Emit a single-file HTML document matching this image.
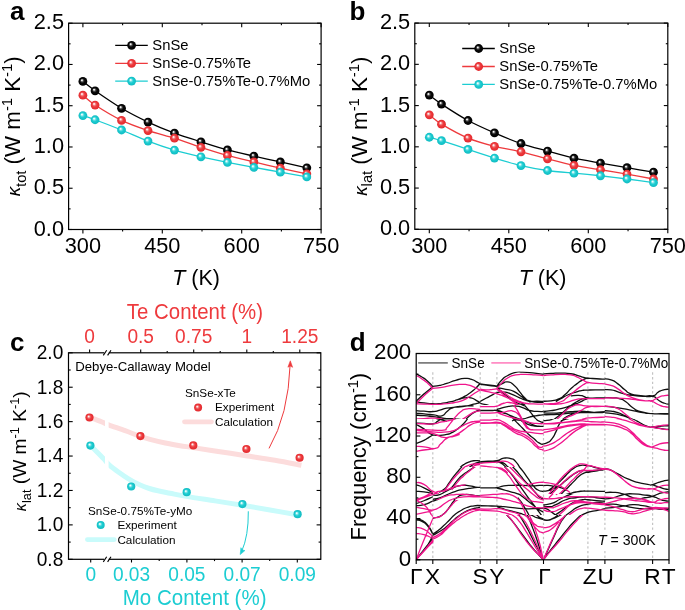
<!DOCTYPE html>
<html><head><meta charset="utf-8"><style>
html,body{margin:0;padding:0;background:#fff;}
svg{display:block;will-change:transform;}
text{font-family:"Liberation Sans", sans-serif;}
</style></head><body>
<svg width="685" height="610" viewBox="0 0 685 610" font-family='"Liberation Sans", sans-serif'>
<rect width="685" height="610" fill="#fff"/>

<defs>
<radialGradient id="g_k" cx="0.5" cy="0.5" r="0.5" fx="0.37" fy="0.35">
  <stop offset="0" stop-color="#ffffff"/>
  <stop offset="0.12" stop-color="#e8e8e8"/>
  <stop offset="0.32" stop-color="#4a4a4a"/>
  <stop offset="0.55" stop-color="#080808"/>
  <stop offset="1" stop-color="#000"/>
</radialGradient>
<radialGradient id="g_r" cx="0.5" cy="0.5" r="0.5" fx="0.37" fy="0.35">
  <stop offset="0" stop-color="#ffffff"/>
  <stop offset="0.12" stop-color="#fde6e6"/>
  <stop offset="0.34" stop-color="#f07073"/>
  <stop offset="0.55" stop-color="#ee3b3e"/>
  <stop offset="1" stop-color="#e2282c"/>
</radialGradient>
<radialGradient id="g_c" cx="0.5" cy="0.5" r="0.5" fx="0.37" fy="0.35">
  <stop offset="0" stop-color="#ffffff"/>
  <stop offset="0.12" stop-color="#e4fbfb"/>
  <stop offset="0.34" stop-color="#62dde0"/>
  <stop offset="0.55" stop-color="#1ccdd2"/>
  <stop offset="1" stop-color="#12bbc1"/>
</radialGradient>
<clipPath id="clipd"><rect x="416.3" y="353.8" width="252.5" height="205.7"/></clipPath>
<clipPath id="clipc1"><rect x="68.5" y="352.8" width="36.5" height="206.5"/></clipPath>
<clipPath id="clipc2"><rect x="108.6" y="352.8" width="212" height="206.5"/></clipPath>
</defs>

<path d="M82.90,81.38 C84.32,82.47 90.57,87.65 95.07,90.78 C99.58,93.92 115.37,104.63 121.54,108.28 C127.72,111.93 141.83,119.16 148.01,122.06 C154.18,124.96 168.30,130.82 174.47,133.12 C180.65,135.42 194.77,139.82 200.94,141.78 C207.12,143.75 221.23,148.28 227.41,149.95 C233.58,151.63 247.70,154.74 253.87,156.14 C260.05,157.54 274.17,160.56 280.34,161.92 C286.52,163.27 303.72,167.09 306.81,167.78" fill="none" stroke="#000" stroke-width="1.3" stroke-linejoin="round" stroke-linecap="butt" />
<circle cx="82.90" cy="81.38" r="4.4" fill="url(#g_k)"/>
<circle cx="95.07" cy="90.78" r="4.4" fill="url(#g_k)"/>
<circle cx="121.54" cy="108.28" r="4.4" fill="url(#g_k)"/>
<circle cx="148.01" cy="122.06" r="4.4" fill="url(#g_k)"/>
<circle cx="174.47" cy="133.12" r="4.4" fill="url(#g_k)"/>
<circle cx="200.94" cy="141.78" r="4.4" fill="url(#g_k)"/>
<circle cx="227.41" cy="149.95" r="4.4" fill="url(#g_k)"/>
<circle cx="253.87" cy="156.14" r="4.4" fill="url(#g_k)"/>
<circle cx="280.34" cy="161.92" r="4.4" fill="url(#g_k)"/>
<circle cx="306.81" cy="167.78" r="4.4" fill="url(#g_k)"/>
<path d="M82.90,95.16 C84.32,96.31 90.57,102.11 95.07,105.06 C99.58,108.01 115.37,117.43 121.54,120.41 C127.72,123.38 141.83,128.49 148.01,130.56 C154.18,132.63 168.30,136.20 174.47,138.15 C180.65,140.10 194.77,145.30 200.94,147.31 C207.12,149.32 221.23,153.69 227.41,155.40 C233.58,157.10 247.70,160.42 253.87,161.92 C260.05,163.41 274.17,166.80 280.34,168.19 C286.52,169.57 303.72,173.14 306.81,173.80" fill="none" stroke="#ee3a3d" stroke-width="1.3" stroke-linejoin="round" stroke-linecap="butt" />
<circle cx="82.90" cy="95.16" r="4.4" fill="url(#g_r)"/>
<circle cx="95.07" cy="105.06" r="4.4" fill="url(#g_r)"/>
<circle cx="121.54" cy="120.41" r="4.4" fill="url(#g_r)"/>
<circle cx="148.01" cy="130.56" r="4.4" fill="url(#g_r)"/>
<circle cx="174.47" cy="138.15" r="4.4" fill="url(#g_r)"/>
<circle cx="200.94" cy="147.31" r="4.4" fill="url(#g_r)"/>
<circle cx="227.41" cy="155.40" r="4.4" fill="url(#g_r)"/>
<circle cx="253.87" cy="161.92" r="4.4" fill="url(#g_r)"/>
<circle cx="280.34" cy="168.19" r="4.4" fill="url(#g_r)"/>
<circle cx="306.81" cy="173.80" r="4.4" fill="url(#g_r)"/>
<path d="M82.90,115.62 C84.32,116.10 90.57,118.07 95.07,119.75 C99.58,121.42 115.37,127.49 121.54,129.98 C127.72,132.47 141.83,138.77 148.01,141.12 C154.18,143.47 168.30,148.29 174.47,150.12 C180.65,151.94 194.77,155.38 200.94,156.80 C207.12,158.22 221.23,161.10 227.41,162.33 C233.58,163.56 247.70,166.22 253.87,167.36 C260.05,168.51 274.17,171.03 280.34,172.15 C286.52,173.27 303.72,176.38 306.81,176.93" fill="none" stroke="#1ccdd2" stroke-width="1.3" stroke-linejoin="round" stroke-linecap="butt" />
<circle cx="82.90" cy="115.62" r="4.4" fill="url(#g_c)"/>
<circle cx="95.07" cy="119.75" r="4.4" fill="url(#g_c)"/>
<circle cx="121.54" cy="129.98" r="4.4" fill="url(#g_c)"/>
<circle cx="148.01" cy="141.12" r="4.4" fill="url(#g_c)"/>
<circle cx="174.47" cy="150.12" r="4.4" fill="url(#g_c)"/>
<circle cx="200.94" cy="156.80" r="4.4" fill="url(#g_c)"/>
<circle cx="227.41" cy="162.33" r="4.4" fill="url(#g_c)"/>
<circle cx="253.87" cy="167.36" r="4.4" fill="url(#g_c)"/>
<circle cx="280.34" cy="172.15" r="4.4" fill="url(#g_c)"/>
<circle cx="306.81" cy="176.93" r="4.4" fill="url(#g_c)"/>
<rect x="68.60" y="23.20" width="252.50" height="206.30" fill="none" stroke="#000" stroke-width="1.2"/>
<line x1="68.60" y1="229.50" x2="72.60" y2="229.50" stroke="#000" stroke-width="1.1" />
<line x1="321.10" y1="229.50" x2="317.10" y2="229.50" stroke="#000" stroke-width="1.1" />
<line x1="68.60" y1="208.87" x2="70.60" y2="208.87" stroke="#000" stroke-width="1.1" />
<line x1="321.10" y1="208.87" x2="319.10" y2="208.87" stroke="#000" stroke-width="1.1" />
<line x1="68.60" y1="188.24" x2="72.60" y2="188.24" stroke="#000" stroke-width="1.1" />
<line x1="321.10" y1="188.24" x2="317.10" y2="188.24" stroke="#000" stroke-width="1.1" />
<line x1="68.60" y1="167.61" x2="70.60" y2="167.61" stroke="#000" stroke-width="1.1" />
<line x1="321.10" y1="167.61" x2="319.10" y2="167.61" stroke="#000" stroke-width="1.1" />
<line x1="68.60" y1="146.98" x2="72.60" y2="146.98" stroke="#000" stroke-width="1.1" />
<line x1="321.10" y1="146.98" x2="317.10" y2="146.98" stroke="#000" stroke-width="1.1" />
<line x1="68.60" y1="126.35" x2="70.60" y2="126.35" stroke="#000" stroke-width="1.1" />
<line x1="321.10" y1="126.35" x2="319.10" y2="126.35" stroke="#000" stroke-width="1.1" />
<line x1="68.60" y1="105.72" x2="72.60" y2="105.72" stroke="#000" stroke-width="1.1" />
<line x1="321.10" y1="105.72" x2="317.10" y2="105.72" stroke="#000" stroke-width="1.1" />
<line x1="68.60" y1="85.09" x2="70.60" y2="85.09" stroke="#000" stroke-width="1.1" />
<line x1="321.10" y1="85.09" x2="319.10" y2="85.09" stroke="#000" stroke-width="1.1" />
<line x1="68.60" y1="64.46" x2="72.60" y2="64.46" stroke="#000" stroke-width="1.1" />
<line x1="321.10" y1="64.46" x2="317.10" y2="64.46" stroke="#000" stroke-width="1.1" />
<line x1="68.60" y1="43.83" x2="70.60" y2="43.83" stroke="#000" stroke-width="1.1" />
<line x1="321.10" y1="43.83" x2="319.10" y2="43.83" stroke="#000" stroke-width="1.1" />
<line x1="68.60" y1="23.20" x2="72.60" y2="23.20" stroke="#000" stroke-width="1.1" />
<line x1="321.10" y1="23.20" x2="317.10" y2="23.20" stroke="#000" stroke-width="1.1" />
<line x1="82.90" y1="229.50" x2="82.90" y2="233.50" stroke="#000" stroke-width="1.1" />
<line x1="82.90" y1="23.20" x2="82.90" y2="27.20" stroke="#000" stroke-width="1.1" />
<line x1="122.60" y1="229.50" x2="122.60" y2="231.50" stroke="#000" stroke-width="1.1" />
<line x1="122.60" y1="23.20" x2="122.60" y2="25.20" stroke="#000" stroke-width="1.1" />
<line x1="162.30" y1="229.50" x2="162.30" y2="233.50" stroke="#000" stroke-width="1.1" />
<line x1="162.30" y1="23.20" x2="162.30" y2="27.20" stroke="#000" stroke-width="1.1" />
<line x1="202.00" y1="229.50" x2="202.00" y2="231.50" stroke="#000" stroke-width="1.1" />
<line x1="202.00" y1="23.20" x2="202.00" y2="25.20" stroke="#000" stroke-width="1.1" />
<line x1="241.70" y1="229.50" x2="241.70" y2="233.50" stroke="#000" stroke-width="1.1" />
<line x1="241.70" y1="23.20" x2="241.70" y2="27.20" stroke="#000" stroke-width="1.1" />
<line x1="281.40" y1="229.50" x2="281.40" y2="231.50" stroke="#000" stroke-width="1.1" />
<line x1="281.40" y1="23.20" x2="281.40" y2="25.20" stroke="#000" stroke-width="1.1" />
<line x1="321.10" y1="229.50" x2="321.10" y2="233.50" stroke="#000" stroke-width="1.1" />
<line x1="321.10" y1="23.20" x2="321.10" y2="27.20" stroke="#000" stroke-width="1.1" />
<text transform="translate(64.00,235.50) scale(0.955,1)" font-size="22.8" text-anchor="end" fill="#000" font-weight="normal" font-style="normal" >0.0</text>
<text transform="translate(64.00,194.24) scale(0.955,1)" font-size="22.8" text-anchor="end" fill="#000" font-weight="normal" font-style="normal" >0.5</text>
<text transform="translate(64.00,152.98) scale(0.955,1)" font-size="22.8" text-anchor="end" fill="#000" font-weight="normal" font-style="normal" >1.0</text>
<text transform="translate(64.00,111.72) scale(0.955,1)" font-size="22.8" text-anchor="end" fill="#000" font-weight="normal" font-style="normal" >1.5</text>
<text transform="translate(64.00,70.46) scale(0.955,1)" font-size="22.8" text-anchor="end" fill="#000" font-weight="normal" font-style="normal" >2.0</text>
<text transform="translate(64.00,29.20) scale(0.955,1)" font-size="22.8" text-anchor="end" fill="#000" font-weight="normal" font-style="normal" >2.5</text>
<text transform="translate(82.90,253.10) scale(0.955,1)" font-size="22.8" text-anchor="middle" fill="#000" font-weight="normal" font-style="normal" >300</text>
<text transform="translate(162.30,253.10) scale(0.955,1)" font-size="22.8" text-anchor="middle" fill="#000" font-weight="normal" font-style="normal" >450</text>
<text transform="translate(241.70,253.10) scale(0.955,1)" font-size="22.8" text-anchor="middle" fill="#000" font-weight="normal" font-style="normal" >600</text>
<text transform="translate(321.10,253.10) scale(0.955,1)" font-size="22.8" text-anchor="middle" fill="#000" font-weight="normal" font-style="normal" >750</text>
<text transform="translate(196.05,285.00) scale(0.95,1)" font-size="22.6" text-anchor="middle"><tspan font-style="italic">T</tspan> (K)</text>
<text transform="translate(20.30,126.35) rotate(-90) scale(1.015,1)" font-size="22" text-anchor="middle"><tspan font-style="italic" font-size="18.5">κ</tspan><tspan font-size="14.5" dy="5.4">tot</tspan><tspan dy="-5.4"> (W m</tspan><tspan font-size="14.5" dy="-8">-1</tspan><tspan dy="8"> K</tspan><tspan font-size="14.5" dy="-8">-1</tspan><tspan dy="8">)</tspan></text>
<line x1="115.20" y1="45.30" x2="147.80" y2="45.30" stroke="#000" stroke-width="1.3" />
<circle cx="131.60" cy="45.30" r="4.4" fill="url(#g_k)"/>
<text transform="translate(152.30,50.20) scale(0.975,1)" font-size="15.2" text-anchor="start" fill="#000" font-weight="normal" font-style="normal" >SnSe</text>
<line x1="115.20" y1="63.30" x2="147.80" y2="63.30" stroke="#ee3a3d" stroke-width="1.3" />
<circle cx="131.60" cy="63.30" r="4.4" fill="url(#g_r)"/>
<text transform="translate(152.30,68.20) scale(0.975,1)" font-size="15.2" text-anchor="start" fill="#000" font-weight="normal" font-style="normal" >SnSe-0.75%Te</text>
<line x1="115.20" y1="81.10" x2="147.80" y2="81.10" stroke="#1ccdd2" stroke-width="1.3" />
<circle cx="131.60" cy="81.10" r="4.4" fill="url(#g_c)"/>
<text transform="translate(152.30,86.00) scale(0.975,1)" font-size="15.2" text-anchor="start" fill="#000" font-weight="normal" font-style="normal" >SnSe-0.75%Te-0.7%Mo</text>
<text transform="translate(10.00,19.60)" font-size="26" text-anchor="start" fill="#000" font-weight="bold" font-style="normal" >a</text>
<path d="M429.30,95.11 C430.72,96.15 436.98,101.13 441.49,104.10 C446.00,107.06 461.81,117.15 467.99,120.51 C474.17,123.87 488.31,130.20 494.49,132.88 C500.67,135.57 514.81,141.40 520.99,143.52 C527.17,145.64 541.31,149.31 547.49,151.03 C553.67,152.74 567.81,156.80 573.99,158.20 C580.17,159.61 594.31,161.96 600.49,163.07 C606.67,164.18 620.81,166.63 626.99,167.69 C633.17,168.75 650.40,171.62 653.49,172.14" fill="none" stroke="#000" stroke-width="1.3" stroke-linejoin="round" stroke-linecap="butt" />
<circle cx="429.30" cy="95.11" r="4.4" fill="url(#g_k)"/>
<circle cx="441.49" cy="104.10" r="4.4" fill="url(#g_k)"/>
<circle cx="467.99" cy="120.51" r="4.4" fill="url(#g_k)"/>
<circle cx="494.49" cy="132.88" r="4.4" fill="url(#g_k)"/>
<circle cx="520.99" cy="143.52" r="4.4" fill="url(#g_k)"/>
<circle cx="547.49" cy="151.03" r="4.4" fill="url(#g_k)"/>
<circle cx="573.99" cy="158.20" r="4.4" fill="url(#g_k)"/>
<circle cx="600.49" cy="163.07" r="4.4" fill="url(#g_k)"/>
<circle cx="626.99" cy="167.69" r="4.4" fill="url(#g_k)"/>
<circle cx="653.49" cy="172.14" r="4.4" fill="url(#g_k)"/>
<path d="M429.30,114.82 C430.72,115.91 436.98,121.42 441.49,124.14 C446.00,126.85 461.81,135.49 467.99,138.08 C474.17,140.67 488.31,144.73 494.49,146.33 C500.67,147.92 514.81,150.32 520.99,151.77 C527.17,153.22 541.31,157.20 547.49,158.78 C553.67,160.36 567.81,164.02 573.99,165.30 C580.17,166.58 594.31,168.73 600.49,169.75 C606.67,170.77 620.81,172.96 626.99,174.04 C633.17,175.12 650.40,178.41 653.49,178.99" fill="none" stroke="#ee3a3d" stroke-width="1.3" stroke-linejoin="round" stroke-linecap="butt" />
<circle cx="429.30" cy="114.82" r="4.4" fill="url(#g_r)"/>
<circle cx="441.49" cy="124.14" r="4.4" fill="url(#g_r)"/>
<circle cx="467.99" cy="138.08" r="4.4" fill="url(#g_r)"/>
<circle cx="494.49" cy="146.33" r="4.4" fill="url(#g_r)"/>
<circle cx="520.99" cy="151.77" r="4.4" fill="url(#g_r)"/>
<circle cx="547.49" cy="158.78" r="4.4" fill="url(#g_r)"/>
<circle cx="573.99" cy="165.30" r="4.4" fill="url(#g_r)"/>
<circle cx="600.49" cy="169.75" r="4.4" fill="url(#g_r)"/>
<circle cx="626.99" cy="174.04" r="4.4" fill="url(#g_r)"/>
<circle cx="653.49" cy="178.99" r="4.4" fill="url(#g_r)"/>
<path d="M429.30,137.25 C430.72,137.65 436.98,139.22 441.49,140.63 C446.00,142.05 461.81,147.35 467.99,149.38 C474.17,151.41 488.31,156.15 494.49,158.04 C500.67,159.92 514.81,164.09 520.99,165.54 C527.17,167.00 541.31,169.60 547.49,170.49 C553.67,171.39 567.81,172.60 573.99,173.21 C580.17,173.83 594.31,175.10 600.49,175.77 C606.67,176.44 620.81,178.19 626.99,178.99 C633.17,179.79 650.40,182.19 653.49,182.62" fill="none" stroke="#1ccdd2" stroke-width="1.3" stroke-linejoin="round" stroke-linecap="butt" />
<circle cx="429.30" cy="137.25" r="4.4" fill="url(#g_c)"/>
<circle cx="441.49" cy="140.63" r="4.4" fill="url(#g_c)"/>
<circle cx="467.99" cy="149.38" r="4.4" fill="url(#g_c)"/>
<circle cx="494.49" cy="158.04" r="4.4" fill="url(#g_c)"/>
<circle cx="520.99" cy="165.54" r="4.4" fill="url(#g_c)"/>
<circle cx="547.49" cy="170.49" r="4.4" fill="url(#g_c)"/>
<circle cx="573.99" cy="173.21" r="4.4" fill="url(#g_c)"/>
<circle cx="600.49" cy="175.77" r="4.4" fill="url(#g_c)"/>
<circle cx="626.99" cy="178.99" r="4.4" fill="url(#g_c)"/>
<circle cx="653.49" cy="182.62" r="4.4" fill="url(#g_c)"/>
<rect x="414.80" y="23.10" width="253.00" height="206.20" fill="none" stroke="#000" stroke-width="1.2"/>
<line x1="414.80" y1="229.30" x2="418.80" y2="229.30" stroke="#000" stroke-width="1.1" />
<line x1="667.80" y1="229.30" x2="663.80" y2="229.30" stroke="#000" stroke-width="1.1" />
<line x1="414.80" y1="208.68" x2="416.80" y2="208.68" stroke="#000" stroke-width="1.1" />
<line x1="667.80" y1="208.68" x2="665.80" y2="208.68" stroke="#000" stroke-width="1.1" />
<line x1="414.80" y1="188.06" x2="418.80" y2="188.06" stroke="#000" stroke-width="1.1" />
<line x1="667.80" y1="188.06" x2="663.80" y2="188.06" stroke="#000" stroke-width="1.1" />
<line x1="414.80" y1="167.44" x2="416.80" y2="167.44" stroke="#000" stroke-width="1.1" />
<line x1="667.80" y1="167.44" x2="665.80" y2="167.44" stroke="#000" stroke-width="1.1" />
<line x1="414.80" y1="146.82" x2="418.80" y2="146.82" stroke="#000" stroke-width="1.1" />
<line x1="667.80" y1="146.82" x2="663.80" y2="146.82" stroke="#000" stroke-width="1.1" />
<line x1="414.80" y1="126.20" x2="416.80" y2="126.20" stroke="#000" stroke-width="1.1" />
<line x1="667.80" y1="126.20" x2="665.80" y2="126.20" stroke="#000" stroke-width="1.1" />
<line x1="414.80" y1="105.58" x2="418.80" y2="105.58" stroke="#000" stroke-width="1.1" />
<line x1="667.80" y1="105.58" x2="663.80" y2="105.58" stroke="#000" stroke-width="1.1" />
<line x1="414.80" y1="84.96" x2="416.80" y2="84.96" stroke="#000" stroke-width="1.1" />
<line x1="667.80" y1="84.96" x2="665.80" y2="84.96" stroke="#000" stroke-width="1.1" />
<line x1="414.80" y1="64.34" x2="418.80" y2="64.34" stroke="#000" stroke-width="1.1" />
<line x1="667.80" y1="64.34" x2="663.80" y2="64.34" stroke="#000" stroke-width="1.1" />
<line x1="414.80" y1="43.72" x2="416.80" y2="43.72" stroke="#000" stroke-width="1.1" />
<line x1="667.80" y1="43.72" x2="665.80" y2="43.72" stroke="#000" stroke-width="1.1" />
<line x1="414.80" y1="23.10" x2="418.80" y2="23.10" stroke="#000" stroke-width="1.1" />
<line x1="667.80" y1="23.10" x2="663.80" y2="23.10" stroke="#000" stroke-width="1.1" />
<line x1="429.30" y1="229.30" x2="429.30" y2="233.30" stroke="#000" stroke-width="1.1" />
<line x1="429.30" y1="23.10" x2="429.30" y2="27.10" stroke="#000" stroke-width="1.1" />
<line x1="469.05" y1="229.30" x2="469.05" y2="231.30" stroke="#000" stroke-width="1.1" />
<line x1="469.05" y1="23.10" x2="469.05" y2="25.10" stroke="#000" stroke-width="1.1" />
<line x1="508.80" y1="229.30" x2="508.80" y2="233.30" stroke="#000" stroke-width="1.1" />
<line x1="508.80" y1="23.10" x2="508.80" y2="27.10" stroke="#000" stroke-width="1.1" />
<line x1="548.55" y1="229.30" x2="548.55" y2="231.30" stroke="#000" stroke-width="1.1" />
<line x1="548.55" y1="23.10" x2="548.55" y2="25.10" stroke="#000" stroke-width="1.1" />
<line x1="588.30" y1="229.30" x2="588.30" y2="233.30" stroke="#000" stroke-width="1.1" />
<line x1="588.30" y1="23.10" x2="588.30" y2="27.10" stroke="#000" stroke-width="1.1" />
<line x1="628.05" y1="229.30" x2="628.05" y2="231.30" stroke="#000" stroke-width="1.1" />
<line x1="628.05" y1="23.10" x2="628.05" y2="25.10" stroke="#000" stroke-width="1.1" />
<line x1="667.80" y1="229.30" x2="667.80" y2="233.30" stroke="#000" stroke-width="1.1" />
<line x1="667.80" y1="23.10" x2="667.80" y2="27.10" stroke="#000" stroke-width="1.1" />
<text transform="translate(410.20,235.30) scale(0.955,1)" font-size="22.8" text-anchor="end" fill="#000" font-weight="normal" font-style="normal" >0.0</text>
<text transform="translate(410.20,194.06) scale(0.955,1)" font-size="22.8" text-anchor="end" fill="#000" font-weight="normal" font-style="normal" >0.5</text>
<text transform="translate(410.20,152.82) scale(0.955,1)" font-size="22.8" text-anchor="end" fill="#000" font-weight="normal" font-style="normal" >1.0</text>
<text transform="translate(410.20,111.58) scale(0.955,1)" font-size="22.8" text-anchor="end" fill="#000" font-weight="normal" font-style="normal" >1.5</text>
<text transform="translate(410.20,70.34) scale(0.955,1)" font-size="22.8" text-anchor="end" fill="#000" font-weight="normal" font-style="normal" >2.0</text>
<text transform="translate(410.20,29.10) scale(0.955,1)" font-size="22.8" text-anchor="end" fill="#000" font-weight="normal" font-style="normal" >2.5</text>
<text transform="translate(429.30,252.90) scale(0.955,1)" font-size="22.8" text-anchor="middle" fill="#000" font-weight="normal" font-style="normal" >300</text>
<text transform="translate(508.80,252.90) scale(0.955,1)" font-size="22.8" text-anchor="middle" fill="#000" font-weight="normal" font-style="normal" >450</text>
<text transform="translate(588.30,252.90) scale(0.955,1)" font-size="22.8" text-anchor="middle" fill="#000" font-weight="normal" font-style="normal" >600</text>
<text transform="translate(667.80,252.90) scale(0.955,1)" font-size="22.8" text-anchor="middle" fill="#000" font-weight="normal" font-style="normal" >750</text>
<text transform="translate(542.50,284.80) scale(0.95,1)" font-size="22.6" text-anchor="middle"><tspan font-style="italic">T</tspan> (K)</text>
<text transform="translate(366.50,126.20) rotate(-90) scale(1.015,1)" font-size="22" text-anchor="middle"><tspan font-style="italic" font-size="18.5">κ</tspan><tspan font-size="14.5" dy="5.4">lat</tspan><tspan dy="-5.4"> (W m</tspan><tspan font-size="14.5" dy="-8">-1</tspan><tspan dy="8"> K</tspan><tspan font-size="14.5" dy="-8">-1</tspan><tspan dy="8">)</tspan></text>
<line x1="462.20" y1="48.50" x2="494.80" y2="48.50" stroke="#000" stroke-width="1.3" />
<circle cx="478.70" cy="48.50" r="4.4" fill="url(#g_k)"/>
<text transform="translate(499.30,53.40) scale(0.975,1)" font-size="15.2" text-anchor="start" fill="#000" font-weight="normal" font-style="normal" >SnSe</text>
<line x1="462.20" y1="66.50" x2="494.80" y2="66.50" stroke="#ee3a3d" stroke-width="1.3" />
<circle cx="478.70" cy="66.50" r="4.4" fill="url(#g_r)"/>
<text transform="translate(499.30,71.40) scale(0.975,1)" font-size="15.2" text-anchor="start" fill="#000" font-weight="normal" font-style="normal" >SnSe-0.75%Te</text>
<line x1="462.20" y1="84.40" x2="494.80" y2="84.40" stroke="#1ccdd2" stroke-width="1.3" />
<circle cx="478.70" cy="84.40" r="4.4" fill="url(#g_c)"/>
<text transform="translate(499.30,89.30) scale(0.975,1)" font-size="15.2" text-anchor="start" fill="#000" font-weight="normal" font-style="normal" >SnSe-0.75%Te-0.7%Mo</text>
<text transform="translate(349.50,19.60)" font-size="26" text-anchor="start" fill="#000" font-weight="bold" font-style="normal" >b</text>
<g clip-path="url(#clipc1)">
<path d="M89.50,417.20 C90.88,417.72 95.38,419.35 97.80,420.30 C100.22,421.25 102.12,422.10 104.00,422.90 C105.88,423.70 105.58,423.80 109.10,425.10 C112.62,426.40 119.88,428.82 125.10,430.70 C130.32,432.58 136.25,434.97 140.40,436.40 C144.55,437.83 145.85,438.20 150.00,439.30 C154.15,440.40 160.30,441.93 165.30,443.00 C170.30,444.07 175.35,444.93 180.00,445.70 C184.65,446.47 186.53,446.60 193.20,447.60 C199.87,448.60 211.23,450.35 220.00,451.70 C228.77,453.05 236.63,454.28 245.80,455.70 C254.97,457.12 265.73,458.62 275.00,460.20 C284.27,461.78 297.00,464.37 301.40,465.20" fill="none" stroke="#fcdcdc" stroke-width="5.0" stroke-linejoin="round" stroke-linecap="butt" />
</g><g clip-path="url(#clipc2)">
<path d="M89.50,417.20 C90.88,417.72 95.38,419.35 97.80,420.30 C100.22,421.25 102.12,422.10 104.00,422.90 C105.88,423.70 105.58,423.80 109.10,425.10 C112.62,426.40 119.88,428.82 125.10,430.70 C130.32,432.58 136.25,434.97 140.40,436.40 C144.55,437.83 145.85,438.20 150.00,439.30 C154.15,440.40 160.30,441.93 165.30,443.00 C170.30,444.07 175.35,444.93 180.00,445.70 C184.65,446.47 186.53,446.60 193.20,447.60 C199.87,448.60 211.23,450.35 220.00,451.70 C228.77,453.05 236.63,454.28 245.80,455.70 C254.97,457.12 265.73,458.62 275.00,460.20 C284.27,461.78 297.00,464.37 301.40,465.20" fill="none" stroke="#fcdcdc" stroke-width="5.0" stroke-linejoin="round" stroke-linecap="butt" />
</g>
<g clip-path="url(#clipc1)">
<path d="M90.40,445.60 C91.37,446.53 94.22,449.23 96.20,451.20 C98.18,453.17 100.95,456.03 102.30,457.40 C103.65,458.77 103.20,458.20 104.30,459.40 C105.40,460.60 106.50,462.47 108.90,464.60 C111.30,466.73 115.37,469.78 118.70,472.20 C122.03,474.62 125.50,477.03 128.90,479.10 C132.30,481.17 135.70,483.03 139.10,484.60 C142.50,486.17 146.15,487.47 149.30,488.50 C152.45,489.53 154.55,490.02 158.00,490.80 C161.45,491.58 165.27,492.27 170.00,493.20 C174.73,494.13 178.90,495.12 186.40,496.40 C193.90,497.68 205.68,499.43 215.00,500.90 C224.32,502.37 233.13,503.68 242.30,505.20 C251.47,506.72 260.63,508.37 270.00,510.00 C279.37,511.63 293.75,514.17 298.50,515.00" fill="none" stroke="#c9fbfb" stroke-width="5.0" stroke-linejoin="round" stroke-linecap="butt" />
</g><g clip-path="url(#clipc2)">
<path d="M90.40,445.60 C91.37,446.53 94.22,449.23 96.20,451.20 C98.18,453.17 100.95,456.03 102.30,457.40 C103.65,458.77 103.20,458.20 104.30,459.40 C105.40,460.60 106.50,462.47 108.90,464.60 C111.30,466.73 115.37,469.78 118.70,472.20 C122.03,474.62 125.50,477.03 128.90,479.10 C132.30,481.17 135.70,483.03 139.10,484.60 C142.50,486.17 146.15,487.47 149.30,488.50 C152.45,489.53 154.55,490.02 158.00,490.80 C161.45,491.58 165.27,492.27 170.00,493.20 C174.73,494.13 178.90,495.12 186.40,496.40 C193.90,497.68 205.68,499.43 215.00,500.90 C224.32,502.37 233.13,503.68 242.30,505.20 C251.47,506.72 260.63,508.37 270.00,510.00 C279.37,511.63 293.75,514.17 298.50,515.00" fill="none" stroke="#c9fbfb" stroke-width="5.0" stroke-linejoin="round" stroke-linecap="butt" />
</g>
<path d="M269,448.4 Q288.4,415 290.2,364" fill="none" stroke="#ee3a3d" stroke-width="1.0"/>
<path d="M290.3,360.8 L287.9,367.2 L290.3,366 L292.6,367.3 Z" fill="#ee3a3d" stroke="#ee3a3d" stroke-width="0.6"/>
<path d="M248.3,511.3 Q248.6,536 241.6,551.5" fill="none" stroke="#1ccdd2" stroke-width="1.0"/>
<path d="M240.2,554.6 L240.9,547.7 L242.3,549.9 L244.9,550.6 Z" fill="#1ccdd2" stroke="#1ccdd2" stroke-width="0.6"/>
<circle cx="89.50" cy="417.50" r="4.1" fill="url(#g_r)"/>
<circle cx="140.40" cy="436.09" r="4.1" fill="url(#g_r)"/>
<circle cx="193.30" cy="445.38" r="4.1" fill="url(#g_r)"/>
<circle cx="246.40" cy="448.99" r="4.1" fill="url(#g_r)"/>
<circle cx="299.60" cy="457.77" r="4.1" fill="url(#g_r)"/>
<circle cx="90.40" cy="445.55" r="4.1" fill="url(#g_c)"/>
<circle cx="131.20" cy="486.51" r="4.1" fill="url(#g_c)"/>
<circle cx="186.70" cy="492.19" r="4.1" fill="url(#g_c)"/>
<circle cx="242.40" cy="504.06" r="4.1" fill="url(#g_c)"/>
<circle cx="297.60" cy="514.21" r="4.1" fill="url(#g_c)"/>
<rect x="68.5" y="352.8" width="252.30" height="206.50" fill="none" stroke="#000" stroke-width="1.2"/>
<rect x="104.2" y="351.6" width="4.6" height="2.4" fill="#fff"/>
<line x1="103.30" y1="355.40" x2="106.70" y2="350.20" stroke="#000" stroke-width="1.1" />
<line x1="107.60" y1="355.40" x2="111.00" y2="350.20" stroke="#000" stroke-width="1.1" />
<rect x="104.2" y="558.1" width="4.6" height="2.4" fill="#fff"/>
<line x1="103.30" y1="561.90" x2="106.70" y2="556.70" stroke="#000" stroke-width="1.1" />
<line x1="107.60" y1="561.90" x2="111.00" y2="556.70" stroke="#000" stroke-width="1.1" />
<line x1="68.50" y1="559.30" x2="72.70" y2="559.30" stroke="#000" stroke-width="1.1" />
<line x1="320.80" y1="559.30" x2="316.60" y2="559.30" stroke="#000" stroke-width="1.1" />
<line x1="68.50" y1="542.09" x2="70.70" y2="542.09" stroke="#000" stroke-width="1.1" />
<line x1="320.80" y1="542.09" x2="318.60" y2="542.09" stroke="#000" stroke-width="1.1" />
<line x1="68.50" y1="524.88" x2="72.70" y2="524.88" stroke="#000" stroke-width="1.1" />
<line x1="320.80" y1="524.88" x2="316.60" y2="524.88" stroke="#000" stroke-width="1.1" />
<line x1="68.50" y1="507.67" x2="70.70" y2="507.67" stroke="#000" stroke-width="1.1" />
<line x1="320.80" y1="507.67" x2="318.60" y2="507.67" stroke="#000" stroke-width="1.1" />
<line x1="68.50" y1="490.47" x2="72.70" y2="490.47" stroke="#000" stroke-width="1.1" />
<line x1="320.80" y1="490.47" x2="316.60" y2="490.47" stroke="#000" stroke-width="1.1" />
<line x1="68.50" y1="473.26" x2="70.70" y2="473.26" stroke="#000" stroke-width="1.1" />
<line x1="320.80" y1="473.26" x2="318.60" y2="473.26" stroke="#000" stroke-width="1.1" />
<line x1="68.50" y1="456.05" x2="72.70" y2="456.05" stroke="#000" stroke-width="1.1" />
<line x1="320.80" y1="456.05" x2="316.60" y2="456.05" stroke="#000" stroke-width="1.1" />
<line x1="68.50" y1="438.84" x2="70.70" y2="438.84" stroke="#000" stroke-width="1.1" />
<line x1="320.80" y1="438.84" x2="318.60" y2="438.84" stroke="#000" stroke-width="1.1" />
<line x1="68.50" y1="421.63" x2="72.70" y2="421.63" stroke="#000" stroke-width="1.1" />
<line x1="320.80" y1="421.63" x2="316.60" y2="421.63" stroke="#000" stroke-width="1.1" />
<line x1="68.50" y1="404.42" x2="70.70" y2="404.42" stroke="#000" stroke-width="1.1" />
<line x1="320.80" y1="404.42" x2="318.60" y2="404.42" stroke="#000" stroke-width="1.1" />
<line x1="68.50" y1="387.22" x2="72.70" y2="387.22" stroke="#000" stroke-width="1.1" />
<line x1="320.80" y1="387.22" x2="316.60" y2="387.22" stroke="#000" stroke-width="1.1" />
<line x1="68.50" y1="370.01" x2="70.70" y2="370.01" stroke="#000" stroke-width="1.1" />
<line x1="320.80" y1="370.01" x2="318.60" y2="370.01" stroke="#000" stroke-width="1.1" />
<line x1="68.50" y1="352.80" x2="72.70" y2="352.80" stroke="#000" stroke-width="1.1" />
<line x1="320.80" y1="352.80" x2="316.60" y2="352.80" stroke="#000" stroke-width="1.1" />
<line x1="90.70" y1="559.30" x2="90.70" y2="562.50" stroke="#000" stroke-width="1.1" />
<line x1="131.50" y1="559.30" x2="131.50" y2="562.50" stroke="#000" stroke-width="1.1" />
<line x1="159.20" y1="559.30" x2="159.20" y2="561.10" stroke="#000" stroke-width="1.1" />
<line x1="186.90" y1="559.30" x2="186.90" y2="562.50" stroke="#000" stroke-width="1.1" />
<line x1="214.50" y1="559.30" x2="214.50" y2="561.10" stroke="#000" stroke-width="1.1" />
<line x1="242.10" y1="559.30" x2="242.10" y2="562.50" stroke="#000" stroke-width="1.1" />
<line x1="269.70" y1="559.30" x2="269.70" y2="561.10" stroke="#000" stroke-width="1.1" />
<line x1="297.30" y1="559.30" x2="297.30" y2="562.50" stroke="#000" stroke-width="1.1" />
<line x1="89.60" y1="352.80" x2="89.60" y2="349.60" stroke="#000" stroke-width="1.1" />
<line x1="140.70" y1="352.80" x2="140.70" y2="349.60" stroke="#000" stroke-width="1.1" />
<line x1="167.20" y1="352.80" x2="167.20" y2="351.00" stroke="#000" stroke-width="1.1" />
<line x1="193.70" y1="352.80" x2="193.70" y2="349.60" stroke="#000" stroke-width="1.1" />
<line x1="220.20" y1="352.80" x2="220.20" y2="351.00" stroke="#000" stroke-width="1.1" />
<line x1="246.80" y1="352.80" x2="246.80" y2="349.60" stroke="#000" stroke-width="1.1" />
<line x1="273.30" y1="352.80" x2="273.30" y2="351.00" stroke="#000" stroke-width="1.1" />
<line x1="299.80" y1="352.80" x2="299.80" y2="349.60" stroke="#000" stroke-width="1.1" />
<text transform="translate(63.30,565.70) scale(0.933,1)" font-size="20.5" text-anchor="end" fill="#000" font-weight="normal" font-style="normal" >0.8</text>
<text transform="translate(63.30,531.28) scale(0.933,1)" font-size="20.5" text-anchor="end" fill="#000" font-weight="normal" font-style="normal" >1.0</text>
<text transform="translate(63.30,496.87) scale(0.933,1)" font-size="20.5" text-anchor="end" fill="#000" font-weight="normal" font-style="normal" >1.2</text>
<text transform="translate(63.30,462.45) scale(0.933,1)" font-size="20.5" text-anchor="end" fill="#000" font-weight="normal" font-style="normal" >1.4</text>
<text transform="translate(63.30,428.03) scale(0.933,1)" font-size="20.5" text-anchor="end" fill="#000" font-weight="normal" font-style="normal" >1.6</text>
<text transform="translate(63.30,393.62) scale(0.933,1)" font-size="20.5" text-anchor="end" fill="#000" font-weight="normal" font-style="normal" >1.8</text>
<text transform="translate(63.30,359.20) scale(0.933,1)" font-size="20.5" text-anchor="end" fill="#000" font-weight="normal" font-style="normal" >2.0</text>
<text transform="translate(90.70,580.60) scale(0.933,1)" font-size="20.5" text-anchor="middle" fill="#1ccdd2" font-weight="normal" font-style="normal" >0</text>
<text transform="translate(131.50,580.60) scale(0.933,1)" font-size="20.5" text-anchor="middle" fill="#1ccdd2" font-weight="normal" font-style="normal" >0.03</text>
<text transform="translate(186.90,580.60) scale(0.933,1)" font-size="20.5" text-anchor="middle" fill="#1ccdd2" font-weight="normal" font-style="normal" >0.05</text>
<text transform="translate(242.10,580.60) scale(0.933,1)" font-size="20.5" text-anchor="middle" fill="#1ccdd2" font-weight="normal" font-style="normal" >0.07</text>
<text transform="translate(297.30,580.60) scale(0.933,1)" font-size="20.5" text-anchor="middle" fill="#1ccdd2" font-weight="normal" font-style="normal" >0.09</text>
<text transform="translate(89.60,342.60) scale(0.933,1)" font-size="20.5" text-anchor="middle" fill="#ee3a3d" font-weight="normal" font-style="normal" >0</text>
<text transform="translate(140.70,342.60) scale(0.933,1)" font-size="20.5" text-anchor="middle" fill="#ee3a3d" font-weight="normal" font-style="normal" >0.5</text>
<text transform="translate(193.70,342.60) scale(0.933,1)" font-size="20.5" text-anchor="middle" fill="#ee3a3d" font-weight="normal" font-style="normal" >0.75</text>
<text transform="translate(246.80,342.60) scale(0.933,1)" font-size="20.5" text-anchor="middle" fill="#ee3a3d" font-weight="normal" font-style="normal" >1</text>
<text transform="translate(299.80,342.60) scale(0.933,1)" font-size="20.5" text-anchor="middle" fill="#ee3a3d" font-weight="normal" font-style="normal" >1.25</text>
<text transform="translate(194.90,318.50) scale(0.95,1)" font-size="21.5" text-anchor="middle" fill="#ee3a3d" font-weight="normal" font-style="normal" >Te Content (%)</text>
<text transform="translate(194.60,604.80) scale(0.955,1)" font-size="21.5" text-anchor="middle" fill="#1ccdd2" font-weight="normal" font-style="normal" >Mo Content (%)</text>
<text transform="translate(26.2,451.2) rotate(-90) scale(1.03,1)" font-size="18.6" text-anchor="middle"><tspan font-style="italic" font-size="15.8">κ</tspan><tspan font-size="12.4" dy="4.6">lat</tspan><tspan dy="-4.6"> (W m</tspan><tspan font-size="12.4" dy="-6.8">-1</tspan><tspan dy="6.8"> K</tspan><tspan font-size="12.4" dy="-6.8">-1</tspan><tspan dy="6.8">)</tspan></text>
<text transform="translate(75.20,371.20)" font-size="13.2" text-anchor="start" fill="#000" font-weight="normal" font-style="normal" >Debye-Callaway Model</text>
<text transform="translate(185.00,396.90) scale(1.03,1)" font-size="11.4" text-anchor="start" fill="#000" font-weight="normal" font-style="normal" >SnSe-xTe</text>
<circle cx="198.10" cy="407.60" r="4.0" fill="url(#g_r)"/>
<text transform="translate(215.00,411.30) scale(1.03,1)" font-size="11.4" text-anchor="start" fill="#000" font-weight="normal" font-style="normal" >Experiment</text>
<line x1="184.50" y1="421.80" x2="211.50" y2="421.80" stroke="#fcdcdc" stroke-width="4.8" stroke-linecap="round"/>
<text transform="translate(215.00,425.80) scale(1.03,1)" font-size="11.4" text-anchor="start" fill="#000" font-weight="normal" font-style="normal" >Calculation</text>
<text transform="translate(88.00,514.90) scale(1.03,1)" font-size="11.4" text-anchor="start" fill="#000" font-weight="normal" font-style="normal" >SnSe-0.75%Te-yMo</text>
<circle cx="100.70" cy="525.00" r="4.0" fill="url(#g_c)"/>
<text transform="translate(117.40,529.20) scale(1.03,1)" font-size="11.4" text-anchor="start" fill="#000" font-weight="normal" font-style="normal" >Experiment</text>
<line x1="87.40" y1="539.60" x2="114.20" y2="539.60" stroke="#c9fbfb" stroke-width="4.8" stroke-linecap="round"/>
<text transform="translate(117.40,544.00) scale(1.03,1)" font-size="11.4" text-anchor="start" fill="#000" font-weight="normal" font-style="normal" >Calculation</text>
<text transform="translate(10.00,351.00)" font-size="26" text-anchor="start" fill="#000" font-weight="bold" font-style="normal" >c</text>
<line x1="432.80" y1="353.50" x2="432.80" y2="559.80" stroke="#c4c4c4" stroke-width="1.2" stroke-dasharray="2.4,2.3"/>
<line x1="480.20" y1="353.50" x2="480.20" y2="559.80" stroke="#c4c4c4" stroke-width="1.2" stroke-dasharray="2.4,2.3"/>
<line x1="496.90" y1="353.50" x2="496.90" y2="559.80" stroke="#c4c4c4" stroke-width="1.2" stroke-dasharray="2.4,2.3"/>
<line x1="543.50" y1="353.50" x2="543.50" y2="559.80" stroke="#c4c4c4" stroke-width="1.2" stroke-dasharray="2.4,2.3"/>
<line x1="587.90" y1="353.50" x2="587.90" y2="559.80" stroke="#c4c4c4" stroke-width="1.2" stroke-dasharray="2.4,2.3"/>
<line x1="604.90" y1="353.50" x2="604.90" y2="559.80" stroke="#c4c4c4" stroke-width="1.2" stroke-dasharray="2.4,2.3"/>
<line x1="652.60" y1="353.50" x2="652.60" y2="559.80" stroke="#c4c4c4" stroke-width="1.2" stroke-dasharray="2.4,2.3"/>
<defs><clipPath id="cl_c1r1"><rect x="416.2" y="369" width="64.00" height="50.00"/></clipPath><clipPath id="cl_c1r2"><rect x="416.2" y="419" width="64.00" height="48.00"/></clipPath><clipPath id="cl_c1r3"><rect x="416.2" y="467" width="16.60" height="48.00"/><rect x="432.8" y="467" width="47.40" height="33.00"/></clipPath><clipPath id="cl_c1r4"><rect x="416.2" y="515" width="16.60" height="45.00"/><rect x="432.8" y="540" width="47.40" height="20.00"/></clipPath><clipPath id="cl_c2r1"><rect x="480.2" y="369" width="63.30" height="36.00"/></clipPath><clipPath id="cl_c2r2"><rect x="480.2" y="450" width="63.30" height="17.00"/></clipPath><clipPath id="cl_c2r3"><rect x="480.2" y="467" width="63.30" height="48.00"/></clipPath><clipPath id="cl_c2r4"><rect x="480.2" y="515" width="63.30" height="45.00"/></clipPath><clipPath id="cl_c3r1"><rect x="543.5" y="369" width="61.40" height="50.00"/></clipPath><clipPath id="cl_c3r2"><rect x="543.5" y="419" width="61.40" height="40.00"/></clipPath><clipPath id="cl_c3r3"><rect x="543.5" y="494" width="61.40" height="21.00"/></clipPath><clipPath id="cl_c3r4"><rect x="543.5" y="515" width="61.40" height="45.00"/></clipPath><clipPath id="cl_c4r1"><rect x="604.9" y="369" width="63.70" height="50.00"/></clipPath><clipPath id="cl_c4r2"><rect x="604.9" y="419" width="63.70" height="48.00"/></clipPath><clipPath id="cl_c4r3"><rect x="604.9" y="467" width="63.70" height="48.00"/></clipPath><clipPath id="cl_c1x"><rect x="432.8" y="500" width="47.40" height="40.00"/></clipPath><clipPath id="cl_c3x"><rect x="543.5" y="459" width="61.40" height="35.00"/></clipPath><clipPath id="cl_c2x"><rect x="480.2" y="405" width="63.30" height="45.00"/></clipPath></defs><path clip-path="url(#cl_c1r1)" d="M416.18,373.96 C418.10,374.96 418.04,374.46 421.94,376.94 C425.85,379.42 424.26,378.27 427.90,381.41 C431.54,384.55 431.21,384.72 432.86,386.37 M416.18,401.26 C418.10,399.44 418.04,399.28 421.94,395.80 C425.85,392.33 424.26,393.98 427.90,390.84 C431.54,387.70 431.21,387.86 432.86,386.37 M432.86,386.37 C435.18,386.04 435.18,386.37 439.81,385.38 C444.44,384.39 441.46,385.05 446.76,383.39 C452.05,381.74 449.74,382.07 455.69,380.42 C461.65,378.76 459.33,378.76 464.63,378.43 C469.92,378.10 467.27,378.10 471.58,379.42 C475.88,380.75 474.72,380.91 477.53,382.40 C480.35,383.89 478.53,383.23 480.01,383.89 C481.50,384.55 481.34,384.22 482.00,384.39 M416.18,401.76 C418.76,402.16 418.37,402.29 423.93,402.95 C429.49,403.61 426.91,403.61 432.86,403.74 C438.82,403.88 436.17,403.94 441.80,403.35 C447.42,402.75 444.77,403.08 449.74,401.96 C454.70,400.83 452.05,401.69 456.69,399.97 C461.32,398.25 459.33,399.01 463.64,396.80 C467.94,394.58 465.62,396.13 469.59,393.32 C473.56,390.51 472.07,391.50 475.55,388.36 C479.02,385.21 477.86,385.45 480.01,383.89 C482.17,382.34 481.34,383.76 482.00,383.69 M451.72,401.76 C454.04,400.93 454.04,400.60 458.67,399.28 C463.30,397.95 461.48,398.22 465.62,397.79 C469.76,397.36 467.44,397.06 471.08,397.99 C474.72,398.91 473.56,399.05 476.54,400.57 C479.52,402.09 478.19,401.56 480.01,402.55 C481.83,403.55 481.34,403.22 482.00,403.55 M416.18,410.69 C418.76,410.86 418.37,410.86 423.93,411.19 C429.49,411.52 427.57,412.02 432.86,411.69 C438.16,411.36 435.18,411.36 439.81,410.20 C444.44,409.04 441.46,409.20 446.76,408.21 C452.05,407.22 449.41,407.88 455.69,407.22 C461.98,406.56 459.66,407.22 465.62,406.23 C471.58,405.23 468.76,405.47 473.56,404.24 C478.36,403.02 477.20,403.45 480.01,402.55 C482.83,401.66 481.34,401.89 482.00,401.56 M416.18,413.18 C419.43,413.51 420.02,413.61 425.91,414.17 C431.80,414.73 428.56,414.30 433.85,414.86 C439.15,415.43 437.49,416.91 441.80,415.86 C446.10,414.80 443.45,414.23 446.76,411.69 C450.07,409.14 448.08,409.87 451.72,408.21 C455.36,406.56 453.05,407.48 457.68,406.72 C462.31,405.96 460.33,406.19 465.62,405.93 C470.91,405.66 470.91,405.93 473.56,405.93 M416.18,415.16 C418.76,415.33 418.37,415.16 423.93,415.66 C429.49,416.15 427.57,415.99 432.86,416.65 C438.16,417.31 435.18,416.98 439.81,417.64 C444.44,418.30 442.13,418.14 446.76,418.64 C451.39,419.13 448.74,418.80 453.71,419.13 C458.67,419.46 457.35,419.00 461.65,419.63 C465.95,420.26 464.96,420.55 466.61,421.02 M437.82,421.02 C439.81,420.39 439.15,419.93 443.78,419.13 C448.41,418.34 447.09,418.64 451.72,418.64 C456.36,418.64 453.71,418.64 457.68,419.13 C461.65,419.63 460.66,419.50 463.64,420.12 C466.61,420.75 465.62,420.72 466.61,421.02 M464.63,421.02 C466.28,419.23 465.95,418.77 469.59,415.66 C473.23,412.55 472.07,413.51 475.55,411.69 C479.02,409.87 477.86,410.86 480.01,410.20 C482.17,409.54 481.34,409.87 482.00,409.70" fill="none" stroke="#111" stroke-width="1.3"/>
<path clip-path="url(#cl_c1r2)" d="M416.18,417.50 C418.76,417.60 418.37,417.63 423.93,417.79 C429.49,417.96 427.57,417.43 432.86,417.99 C438.16,418.56 435.18,418.32 439.81,419.48 C444.44,420.64 444.44,420.81 446.76,421.47 M416.18,423.15 C418.76,423.22 418.37,423.15 423.93,423.35 C429.49,423.55 428.23,424.48 432.86,423.75 C437.49,423.02 434.85,422.69 437.82,421.17 C440.80,419.65 438.16,419.98 441.80,419.18 C445.44,418.39 444.44,419.02 448.74,418.79 C453.05,418.56 450.40,419.08 454.70,418.49 C459.00,417.89 459.33,417.50 461.65,417.00 M416.18,424.45 C418.76,425.93 419.69,426.10 423.93,428.91 C428.16,431.73 425.91,430.90 428.89,432.88 C431.87,434.87 431.54,434.21 432.86,434.87 M416.18,443.31 C418.76,442.31 419.69,442.31 423.93,440.33 C428.16,438.34 425.91,439.17 428.89,437.35 C431.87,435.53 431.54,435.70 432.86,434.87 M432.86,434.87 C435.18,435.03 435.18,435.53 439.81,435.36 C444.44,435.20 442.79,435.27 446.76,434.37 C450.73,433.48 447.75,434.77 451.72,432.68 C455.69,430.60 454.37,431.53 458.67,428.12 C462.97,424.71 461.32,426.17 464.63,422.46 C467.94,418.75 467.27,418.82 468.60,417.00 M458.67,469.02 C460.33,467.56 460.00,467.03 463.64,464.65 C467.27,462.27 465.62,463.19 469.59,461.87 C473.56,460.55 471.41,460.91 475.55,460.68 C479.68,460.45 479.85,461.01 482.00,461.18 M467.61,469.02 C468.93,467.89 468.60,467.69 471.58,465.64 C474.55,463.59 473.07,464.02 476.54,462.86 C480.01,461.70 480.18,462.40 482.00,462.17" fill="none" stroke="#111" stroke-width="1.3"/>
<path clip-path="url(#cl_c1r3)" d="M438.82,492.30 C440.80,491.14 441.46,491.80 444.77,488.82 C448.08,485.85 445.77,487.50 448.74,483.36 C451.72,479.23 450.40,480.72 453.71,476.42 C457.02,472.11 455.69,473.93 458.67,470.46 C461.65,466.99 460.99,467.81 462.64,465.99 C464.30,464.17 463.30,465.33 463.64,465.00 M439.81,494.78 C442.13,493.46 442.79,493.29 446.76,490.81 C450.73,488.33 448.08,490.98 451.72,487.34 C455.36,483.70 454.04,484.03 457.68,479.89 C461.32,475.75 459.33,477.74 462.64,474.93 C465.95,472.11 463.97,473.93 467.61,471.45 C471.25,468.97 470.25,469.63 473.56,467.48 C476.87,465.33 476.21,465.83 477.53,465.00 M416.18,484.85 C418.76,485.85 418.37,485.18 423.93,487.83 C429.49,490.48 429.88,491.14 432.86,492.80 M416.18,491.31 C418.76,491.47 418.37,490.98 423.93,491.80 C429.49,492.63 429.88,493.13 432.86,493.79 M416.18,503.72 C418.76,502.72 418.37,503.05 423.93,500.74 C429.49,498.42 429.88,498.09 432.86,496.77 M432.86,494.78 C434.85,494.78 434.18,496.04 438.82,494.78 C443.45,493.52 441.80,493.39 446.76,491.01 C451.72,488.63 448.74,489.49 453.71,487.63 C458.67,485.78 456.36,486.05 461.65,485.45 C466.94,484.85 464.96,485.32 469.59,485.85 C474.22,486.38 471.41,486.51 475.55,487.04 C479.68,487.57 479.85,487.30 482.00,487.44 M432.86,499.25 C435.18,498.75 435.18,499.25 439.81,497.76 C444.44,496.27 441.46,496.93 446.76,494.78 C452.05,492.63 450.07,493.13 455.69,491.31 C461.32,489.49 458.34,490.41 463.64,489.32 C468.93,488.23 466.12,488.69 471.58,488.03 C477.04,487.37 477.20,487.57 480.01,487.34 M416.18,505.70 C418.76,505.37 418.37,506.20 423.93,504.71 C429.49,503.22 427.90,503.05 432.86,501.23 C437.82,499.41 436.83,499.91 438.82,499.25 M439.31,517.02 C441.13,514.90 440.97,515.10 444.77,510.66 C448.58,506.23 446.76,508.02 450.73,503.72 C454.70,499.41 452.72,500.67 456.69,497.76 C460.66,494.85 458.34,496.04 462.64,494.98 C466.94,493.92 465.29,494.38 469.59,494.58 C473.89,494.78 471.41,495.01 475.55,495.58 C479.68,496.14 479.85,496.04 482.00,496.27" fill="none" stroke="#111" stroke-width="1.3"/>
<path clip-path="url(#cl_c1r4)" d="M416.18,518.93 C418.10,519.43 418.04,518.27 421.94,520.42 C425.85,522.57 424.26,520.92 427.90,525.39 C431.54,529.85 431.21,531.01 432.86,533.82 M416.18,519.93 C418.10,520.42 418.04,519.27 421.94,521.42 C425.85,523.57 424.26,522.08 427.90,526.38 C431.54,530.68 431.21,531.67 432.86,534.32 M416.18,559.64 C418.10,557.32 418.04,557.65 421.94,552.69 C425.85,547.72 424.26,550.54 427.90,544.74 C431.54,538.95 431.21,538.46 432.86,535.31 M416.18,559.64 C418.76,556.33 418.37,556.82 423.93,549.71 C429.49,542.59 429.88,542.10 432.86,538.29" fill="none" stroke="#111" stroke-width="1.3"/>
<path clip-path="url(#cl_c2r1)" d="M478.00,383.39 C478.73,383.56 476.87,383.39 480.18,383.89 C483.49,384.39 482.33,384.16 487.93,384.88 C493.52,385.61 493.95,385.68 496.96,386.07 M478.00,384.09 C478.73,384.19 476.87,383.96 480.18,384.39 C483.49,384.82 482.33,384.72 487.93,385.38 C493.52,386.04 493.95,386.04 496.96,386.37 M496.96,386.07 C498.58,384.02 498.22,383.46 501.82,379.92 C505.43,376.38 503.15,377.93 507.78,375.45 C512.41,372.97 510.76,373.63 515.72,372.47 C520.69,371.32 517.05,371.81 522.67,371.98 C528.30,372.14 524.82,372.14 532.60,372.97 C540.37,373.80 541.53,373.96 546.00,374.46 M496.96,386.27 C498.91,385.31 499.21,384.85 502.82,383.39 C506.42,381.94 504.14,381.41 507.78,381.91 C511.42,382.40 509.77,381.57 513.74,384.88 C517.71,388.19 516.05,387.53 519.69,391.83 C523.33,396.13 521.35,394.81 524.66,397.79 C527.97,400.77 525.32,399.61 529.62,400.77 C533.92,401.92 532.10,401.10 537.56,401.26 C543.02,401.43 543.19,401.26 546.00,401.26 M497.85,387.86 C500.50,388.36 500.50,388.19 505.80,389.35 C511.09,390.51 508.44,388.85 513.74,391.34 C519.03,393.82 517.05,393.65 521.68,396.80 C526.31,399.94 523.66,399.11 527.64,400.77 C531.61,402.42 527.47,401.43 533.59,401.76 C539.71,402.09 541.86,401.76 546.00,401.76 M496.96,386.87 C498.58,388.52 498.22,388.52 501.82,391.83 C505.43,395.14 503.48,393.49 507.78,396.80 C512.08,400.10 509.77,399.11 514.73,401.76 C519.69,404.41 517.38,403.08 522.67,404.74 C527.97,406.39 525.65,405.40 530.61,406.72 C535.58,408.05 532.43,407.55 537.56,408.71 C542.69,409.87 543.19,409.70 546.00,410.20 M478.00,402.55 C480.65,401.13 480.98,400.93 485.94,398.28 C490.91,395.64 489.22,396.43 492.89,394.61 C496.56,392.79 493.32,393.69 496.96,392.82 C500.60,391.96 499.21,391.70 503.81,392.03 C508.41,392.36 505.46,391.90 510.76,393.82 C516.05,395.74 514.07,395.47 519.69,397.79 C525.32,400.10 521.68,399.28 527.64,400.77 C533.59,402.26 531.44,401.76 537.56,402.26 C543.68,402.75 543.19,402.26 546.00,402.26 M478.00,402.75 C480.65,403.41 480.98,403.58 485.94,404.74 C490.91,405.90 489.22,405.56 492.89,406.23 C496.56,406.89 493.32,406.72 496.96,406.72 C500.60,406.72 499.21,406.56 503.81,406.23 C508.41,405.90 506.13,405.56 510.76,405.73 C515.39,405.90 512.74,405.73 517.71,406.72 C522.67,407.72 520.36,407.05 525.65,408.71 C530.94,410.36 528.96,410.36 533.59,411.69 C538.22,413.01 535.41,412.68 539.55,412.68 C543.68,412.68 543.85,412.02 546.00,411.69 M478.00,410.20 C481.31,410.30 481.61,410.33 487.93,410.49 C494.25,410.66 492.33,410.30 496.96,410.69 C501.59,411.09 498.22,410.03 501.82,411.69 C505.43,413.34 504.80,412.55 507.78,415.66 C510.76,418.77 509.77,419.23 510.76,421.02 M519.69,401.76 C521.68,403.08 521.68,402.42 525.65,405.73 C529.62,409.04 527.97,407.72 531.61,411.69 C535.25,415.66 534.25,414.53 536.57,417.64 C538.89,420.75 537.89,419.89 538.55,421.02 M496.96,410.89 C499.24,411.49 499.21,411.09 503.81,412.68 C508.41,414.27 506.13,413.67 510.76,415.66 C515.39,417.64 513.74,416.85 517.71,418.64 C521.68,420.42 521.02,420.22 522.67,421.02" fill="none" stroke="#111" stroke-width="1.3"/>
<path clip-path="url(#cl_c2r2)" d="M506.79,417.00 C508.44,418.65 508.11,417.99 511.75,421.96 C515.39,425.93 513.74,424.45 517.71,428.91 C521.68,433.38 519.36,431.73 523.66,435.36 C527.97,439.00 525.98,437.18 530.61,439.83 C535.25,442.48 532.43,441.98 537.56,443.31 C542.69,444.63 543.19,443.64 546.00,443.80 M510.76,417.50 C514.73,417.83 516.38,417.66 522.67,418.49 C528.96,419.32 524.66,419.65 529.62,419.98 C534.58,420.31 532.10,419.98 537.56,419.48 C543.02,418.99 543.19,418.82 546.00,418.49 M520.69,421.96 C524.00,423.45 524.33,424.78 530.61,426.43 C536.90,428.09 534.42,426.93 539.55,426.93 C544.68,426.93 543.85,426.60 546.00,426.43 M478.00,461.67 C481.31,461.51 481.61,461.51 487.93,461.18 C494.25,460.84 491.67,461.67 496.96,460.68 C502.25,459.69 499.21,458.86 503.81,458.20 C508.41,457.54 506.79,457.54 510.76,458.69 C514.73,459.85 512.41,458.23 515.72,461.67 C519.03,465.11 519.03,466.57 520.69,469.02 M478.00,462.17 C481.31,462.07 481.61,462.10 487.93,461.87 C494.25,461.64 492.00,461.21 496.96,461.47 C501.92,461.74 499.21,460.94 502.82,462.66 C506.42,464.38 505.13,464.52 507.78,466.64 C510.43,468.75 509.77,468.22 510.76,469.02 M496.96,461.67 C498.91,462.50 499.54,461.70 502.82,464.15 C506.09,466.60 505.46,467.40 506.79,469.02" fill="none" stroke="#111" stroke-width="1.3"/>
<path clip-path="url(#cl_c2r3)" d="M502.82,465.00 C504.47,466.65 504.47,466.32 507.78,469.96 C511.09,473.60 509.44,471.62 512.74,475.92 C516.05,480.22 514.40,478.24 517.71,482.87 C521.02,487.50 519.36,485.18 522.67,489.82 C525.98,494.45 524.00,491.80 527.64,496.77 C531.27,501.73 529.62,499.41 533.59,504.71 C537.56,510.00 536.57,508.55 539.55,512.65 C542.53,516.75 541.53,515.56 542.53,517.02 M510.76,465.00 C512.41,466.65 512.41,466.32 515.72,469.96 C519.03,473.60 517.38,471.95 520.69,475.92 C524.00,479.89 522.34,478.24 525.65,481.88 C528.96,485.52 527.30,483.20 530.61,486.84 C533.92,490.48 532.27,489.16 535.58,492.80 C538.89,496.44 537.07,495.61 540.54,497.76 C544.01,499.91 544.18,498.75 546.00,499.25 M517.71,465.00 C519.36,466.99 519.36,466.65 522.67,470.96 C525.98,475.26 524.33,473.27 527.64,477.91 C530.94,482.54 529.29,480.88 532.60,484.85 C535.91,488.82 534.25,487.67 537.56,489.82 C540.87,491.97 539.71,490.81 542.53,491.31 C545.34,491.80 544.84,491.31 546.00,491.31 M478.00,487.83 C481.31,487.83 481.61,487.90 487.93,487.83 C494.25,487.77 491.67,488.30 496.96,487.63 C502.25,486.97 498.55,486.61 503.81,485.85 C509.07,485.09 506.46,485.52 512.74,485.35 C519.03,485.18 516.05,485.18 522.67,485.35 C529.29,485.52 526.97,485.85 532.60,485.85 C538.22,485.85 535.08,485.52 539.55,485.35 C544.01,485.18 543.85,485.35 546.00,485.35 M496.96,488.03 C499.24,488.63 499.21,488.56 503.81,489.82 C508.41,491.07 506.13,490.48 510.76,491.80 C515.39,493.13 513.74,492.13 517.71,493.79 C521.68,495.44 519.36,494.45 522.67,496.77 C525.98,499.08 524.33,498.09 527.64,500.74 C530.94,503.38 529.29,502.06 532.60,504.71 C535.91,507.36 534.25,506.36 537.56,508.68 C540.87,511.00 539.71,510.33 542.53,511.66 C545.34,512.98 544.84,512.32 546.00,512.65 M478.00,505.70 C481.31,505.77 481.61,505.73 487.93,505.90 C494.25,506.06 491.67,505.93 496.96,506.20 C502.25,506.46 498.55,506.20 503.81,506.69 C509.07,507.19 506.46,507.02 512.74,507.69 C519.03,508.35 515.72,508.35 522.67,508.68 C529.62,509.01 525.82,508.84 533.59,508.68 C541.37,508.51 541.86,508.35 546.00,508.18 M496.96,506.69 C498.91,507.36 498.55,507.36 502.82,508.68 C507.09,510.00 504.80,509.34 509.77,510.66 C514.73,511.99 513.08,511.33 517.71,512.65 C522.34,513.97 520.36,513.18 523.66,514.64 C526.97,516.09 526.31,516.22 527.64,517.02 M517.71,497.76 C519.03,499.41 519.36,499.41 521.68,502.72 C524.00,506.03 522.67,504.38 524.66,507.69 C526.64,511.00 525.98,509.54 527.64,512.65 C529.29,515.76 528.96,515.56 529.62,517.02" fill="none" stroke="#111" stroke-width="1.3"/>
<path clip-path="url(#cl_c2r4)" d="M501.82,510.00 C503.81,511.99 503.81,511.65 507.78,515.96 C511.75,520.26 509.77,517.94 513.74,522.91 C517.71,527.87 515.72,525.55 519.69,530.85 C523.66,536.14 521.68,533.49 525.65,538.79 C529.62,544.08 527.64,541.77 531.61,546.73 C535.58,551.69 533.76,549.38 537.56,553.68 C541.37,557.98 541.20,557.65 543.02,559.64 M514.73,510.00 C516.38,511.99 516.38,511.32 519.69,515.96 C523.00,520.59 521.35,518.27 524.66,523.90 C527.97,529.52 526.31,526.55 529.62,532.83 C532.93,539.12 531.27,536.47 534.58,542.76 C537.89,549.05 536.73,546.07 539.55,551.69 C542.36,557.32 541.86,556.99 543.02,559.64 M524.66,510.00 C525.98,512.65 525.98,511.99 528.63,517.94 C531.27,523.90 529.95,520.92 532.60,527.87 C535.25,534.82 534.09,531.51 536.57,538.79 C539.05,546.07 537.89,542.76 540.04,549.71 C542.19,556.66 542.03,556.33 543.02,559.64 M515.72,510.00 C518.04,510.99 517.71,511.32 522.67,512.98 C527.64,514.63 525.65,513.31 530.61,514.96 C535.58,516.62 532.43,516.29 537.56,517.94 C542.69,519.60 543.19,519.27 546.00,519.93 M529.62,510.00 C531.61,511.32 531.94,511.32 535.58,513.97 C539.22,516.62 537.07,516.12 540.54,517.94 C544.01,519.76 544.18,518.93 546.00,519.43" fill="none" stroke="#111" stroke-width="1.3"/>
<path clip-path="url(#cl_c3r1)" d="M541.00,373.96 C544.31,373.80 544.31,373.73 550.93,373.47 C557.55,373.20 554.24,373.07 560.85,373.17 C567.47,373.27 564.82,372.84 570.78,373.76 C576.74,374.69 574.42,374.72 578.72,375.95 C583.02,377.17 580.61,376.71 583.69,377.44 C586.76,378.17 583.65,377.70 587.95,378.13 C592.26,378.56 590.90,378.36 596.59,378.73 C602.28,379.09 600.89,378.99 605.03,379.22 C609.17,379.46 607.68,379.36 609.00,379.42 M541.00,401.26 C544.31,401.10 544.97,401.59 550.93,400.77 C556.88,399.94 554.24,400.77 558.87,398.78 C563.50,396.80 560.85,398.12 564.82,394.81 C568.80,391.50 566.81,392.49 570.78,388.85 C574.75,385.21 572.77,386.87 576.74,383.89 C580.71,380.91 578.95,381.84 582.69,379.92 C586.43,378.00 586.20,378.73 587.95,378.13 M555.89,401.76 C557.55,400.77 556.55,401.20 560.85,398.78 C565.16,396.37 563.50,396.83 568.80,394.51 C574.09,392.20 572.10,393.22 576.74,391.83 C581.37,390.44 578.95,390.94 582.69,390.34 C586.43,389.75 583.32,390.21 587.95,390.05 C592.59,389.88 590.90,389.91 596.59,389.85 C602.28,389.78 600.89,389.78 605.03,389.85 C609.17,389.91 607.68,389.98 609.00,390.05 M570.78,395.80 C573.43,395.64 574.42,395.14 578.72,395.31 C583.02,395.47 580.61,395.47 583.69,396.30 C586.76,397.13 583.65,397.23 587.95,397.79 C592.26,398.35 590.90,397.99 596.59,397.99 C602.28,397.99 600.89,397.85 605.03,397.79 C609.17,397.72 607.68,397.79 609.00,397.79 M541.00,411.69 C544.31,411.36 544.31,411.69 550.93,410.69 C557.55,409.70 554.24,410.36 560.85,408.71 C567.47,407.05 564.82,407.72 570.78,405.73 C576.74,403.74 574.09,404.74 578.72,402.75 C583.36,400.77 581.60,401.26 584.68,399.77 C587.76,398.28 586.86,398.78 587.95,398.28 M541.00,412.68 C544.31,412.84 544.31,413.18 550.93,413.18 C557.55,413.18 554.24,413.18 560.85,412.68 C567.47,412.18 564.16,412.18 570.78,411.69 C577.40,411.19 574.98,411.19 580.71,411.19 C586.43,411.19 582.66,411.19 587.95,411.69 C593.25,412.18 590.90,412.51 596.59,412.68 C602.28,412.84 600.89,412.51 605.03,412.18 C609.17,411.85 607.68,411.85 609.00,411.69 M541.00,414.66 C544.31,414.66 544.31,414.83 550.93,414.66 C557.55,414.50 554.24,414.66 560.85,414.17 C567.47,413.67 564.16,413.67 570.78,413.18 C577.40,412.68 574.98,412.84 580.71,412.68 C586.43,412.51 582.66,412.84 587.95,412.68 C593.25,412.51 589.58,412.68 596.59,412.18 C603.61,411.69 604.86,411.52 609.00,411.19 M551.92,421.02 C554.24,419.23 554.57,419.10 558.87,415.66 C563.17,412.22 560.85,414.00 564.82,410.69 C568.80,407.38 566.81,408.71 570.78,405.73 C574.75,402.75 572.77,404.08 576.74,401.76 C580.71,399.44 578.95,400.10 582.69,398.78 C586.43,397.46 586.20,398.12 587.95,397.79 M560.85,421.02 C562.84,419.56 562.51,419.10 566.81,416.65 C571.11,414.20 569.13,415.33 573.76,413.67 C578.39,412.02 575.98,412.35 580.71,411.69 C585.44,411.02 585.54,411.69 587.95,411.69" fill="none" stroke="#111" stroke-width="1.3"/>
<path clip-path="url(#cl_c3r2)" d="M541.00,443.80 C542.99,443.47 543.32,444.46 546.96,442.81 C550.60,441.16 548.94,442.48 551.92,438.84 C554.90,435.20 553.57,436.52 555.89,431.89 C558.21,427.26 556.55,428.91 558.87,424.94 C561.18,420.97 560.19,422.63 562.84,419.98 C565.49,417.33 565.49,417.99 566.81,417.00 M541.00,419.98 C542.99,420.14 542.99,420.81 546.96,420.47 C550.93,420.14 549.93,420.14 552.91,418.99 C555.89,417.83 554.90,417.66 555.89,417.00 M560.85,420.97 C562.84,420.31 562.84,420.14 566.81,418.99 C570.78,417.83 569.46,418.16 572.77,417.50 C576.08,416.83 575.41,417.17 576.74,417.00 M570.78,469.02 C572.77,468.06 572.77,467.59 576.74,466.14 C580.71,464.68 578.95,464.98 582.69,464.65 C586.43,464.32 583.32,464.48 587.95,465.15 C592.59,465.81 590.90,465.81 596.59,466.64 C602.28,467.46 600.89,467.13 605.03,467.63 C609.17,468.12 607.68,467.96 609.00,468.12" fill="none" stroke="#111" stroke-width="1.3"/>
<path clip-path="url(#cl_c3r3)" d="M541.00,485.35 C544.31,485.18 544.97,485.52 550.93,484.85 C556.88,484.19 553.91,485.02 558.87,483.36 C563.83,481.71 560.85,482.70 565.82,479.89 C570.78,477.08 568.13,478.57 573.76,474.93 C579.38,471.29 577.96,471.95 582.69,468.97 C587.43,465.99 583.32,466.99 587.95,465.99 C592.59,465.00 590.90,465.50 596.59,465.99 C602.28,466.49 600.89,466.49 605.03,467.48 C609.17,468.47 607.68,468.47 609.00,468.97 M541.00,490.81 C544.31,490.48 544.97,490.74 550.93,489.82 C556.88,488.89 553.57,490.35 558.87,488.03 C564.16,485.71 561.52,486.57 566.81,482.87 C572.10,479.16 570.12,480.22 574.75,476.91 C579.38,473.60 576.31,474.93 580.71,472.94 C585.11,470.96 582.66,471.95 587.95,470.96 C593.25,469.96 590.90,470.46 596.59,469.96 C602.28,469.47 600.89,469.73 605.03,469.47 C609.17,469.20 607.68,469.27 609.00,469.17 M541.00,504.71 C544.31,504.38 544.31,505.70 550.93,503.72 C557.55,501.73 554.24,501.90 560.85,498.75 C567.47,495.61 564.16,496.60 570.78,494.28 C577.40,491.97 574.98,492.80 580.71,491.80 C586.43,490.81 582.66,491.31 587.95,491.31 C593.25,491.31 590.90,491.47 596.59,491.80 C602.28,492.13 600.89,492.13 605.03,492.30 C609.17,492.46 607.68,492.30 609.00,492.30 M541.00,505.70 C543.65,506.03 543.98,507.02 548.94,506.69 C553.91,506.36 550.27,507.02 555.89,504.71 C561.52,502.39 559.20,502.06 565.82,499.74 C572.44,497.43 568.37,498.75 575.74,497.76 C583.12,496.77 581.01,496.77 587.95,496.77 C594.90,496.77 590.90,497.10 596.59,497.76 C602.28,498.42 600.89,498.26 605.03,498.75 C609.17,499.25 607.68,499.08 609.00,499.25 M541.00,507.69 C542.65,508.02 542.65,507.36 545.96,508.68 C549.27,510.00 547.95,509.67 550.93,511.66 C553.91,513.64 552.91,512.85 554.90,514.64 C556.88,516.42 556.22,516.22 556.88,517.02 M550.93,517.02 C553.57,515.56 553.57,516.09 558.87,512.65 C564.16,509.21 561.52,510.33 566.81,506.69 C572.10,503.05 569.46,504.05 574.75,501.73 C580.05,499.41 578.29,500.41 582.69,499.74 C587.09,499.08 583.32,499.41 587.95,499.74 C592.59,500.08 590.90,500.24 596.59,500.74 C602.28,501.23 600.89,501.07 605.03,501.23 C609.17,501.40 607.68,501.23 609.00,501.23 M563.83,517.02 C566.15,515.23 565.82,515.10 570.78,511.66 C575.74,508.22 573.00,509.18 578.72,506.69 C584.45,504.21 582.00,505.54 587.95,504.21 C593.91,502.89 590.90,503.05 596.59,502.72 C602.28,502.39 600.89,502.89 605.03,503.22 C609.17,503.55 607.68,503.55 609.00,503.72 M578.72,517.02 C580.71,515.89 580.71,515.43 584.68,513.64 C588.65,511.86 586.00,512.82 590.64,511.66 C595.27,510.50 593.78,511.16 598.58,510.17 C603.37,509.18 601.55,509.51 605.03,508.68 C608.50,507.85 607.68,508.02 609.00,507.69" fill="none" stroke="#111" stroke-width="1.3"/>
<path clip-path="url(#cl_c3r4)" d="M543.48,559.64 C545.30,555.66 545.47,555.33 548.94,547.72 C552.42,540.11 550.60,544.08 553.91,536.80 C557.21,529.52 555.56,532.17 558.87,525.88 C562.18,519.60 560.52,522.24 563.83,517.94 C567.14,513.64 565.82,515.63 568.80,512.98 C571.77,510.33 571.44,510.99 572.77,510.00 M543.48,559.64 C545.96,556.33 545.80,556.33 550.93,549.71 C556.06,543.09 553.57,546.40 558.87,539.78 C564.16,533.16 561.52,536.14 566.81,529.85 C572.10,523.57 569.46,526.21 574.75,520.92 C580.05,515.63 578.29,517.11 582.69,513.97 C587.09,510.83 583.32,512.65 587.95,511.49 C592.59,510.33 590.90,510.83 596.59,510.50 C602.28,510.17 602.22,510.50 605.03,510.50 M541.00,517.94 C542.32,518.60 541.66,519.43 544.97,519.93 C548.28,520.42 546.96,520.42 550.93,519.43 C554.90,518.44 552.91,518.77 556.88,516.95 C560.85,515.13 560.85,514.96 562.84,513.97 M541.00,519.13 C542.99,519.56 542.99,520.65 546.96,520.42 C550.93,520.19 549.27,520.26 552.91,518.44 C556.55,516.62 556.22,516.12 557.88,514.96" fill="none" stroke="#111" stroke-width="1.3"/>
<path clip-path="url(#cl_c4r1)" d="M603.00,378.93 C605.65,379.26 605.98,378.27 610.94,379.92 C615.91,381.57 613.26,380.58 617.89,383.89 C622.52,387.20 620.54,386.54 624.84,389.85 C629.14,393.16 625.50,391.90 630.80,393.82 C636.09,395.74 633.54,394.88 640.72,395.60 C647.90,396.33 646.38,397.26 652.34,396.00 C658.29,394.74 654.52,393.95 658.59,391.83 C662.66,389.71 660.91,390.48 664.55,389.65 C668.19,388.82 667.86,389.45 669.51,389.35 M603.00,389.85 C605.65,389.85 605.98,389.18 610.94,389.85 C615.91,390.51 612.93,390.34 617.89,391.83 C622.85,393.32 620.87,393.16 625.83,394.31 C630.80,395.47 627.16,394.64 632.78,395.31 C638.41,395.97 636.19,396.07 642.71,396.30 C649.23,396.53 647.04,394.68 652.34,396.00 C657.63,397.33 654.52,397.85 658.59,400.27 C662.66,402.69 660.91,401.92 664.55,403.25 C668.19,404.57 667.86,403.91 669.51,404.24 M603.00,397.79 C606.31,397.79 607.30,397.46 612.93,397.79 C618.55,398.12 615.57,397.46 619.88,398.78 C624.18,400.10 621.53,398.78 625.83,401.76 C630.13,404.74 627.82,404.41 632.78,407.72 C637.74,411.02 634.20,409.70 640.72,411.69 C647.24,413.67 645.72,413.01 652.34,413.67 C658.96,414.33 654.85,413.67 660.58,413.67 C666.30,413.67 666.53,413.67 669.51,413.67 M603.00,406.23 C606.31,406.56 606.31,406.39 612.93,407.22 C619.55,408.05 616.24,407.55 622.85,408.71 C629.47,409.87 626.16,409.37 632.78,410.69 C639.40,412.02 636.19,411.69 642.71,412.68 C649.23,413.67 643.40,413.18 652.34,413.67 C661.27,414.17 663.79,414.00 669.51,414.17 M603.00,410.69 C605.65,410.86 605.98,410.53 610.94,411.19 C615.91,411.85 613.26,411.19 617.89,412.68 C622.52,414.17 620.54,413.67 624.84,415.66 C629.14,417.64 627.49,416.85 630.80,418.64 C634.10,420.42 633.44,420.22 634.77,421.02 M603.00,412.68 C606.31,413.01 606.31,412.68 612.93,413.67 C619.55,414.66 616.90,414.00 622.85,415.66 C628.81,417.31 626.16,416.85 630.80,418.64 C635.43,420.42 634.77,420.22 636.75,421.02" fill="none" stroke="#111" stroke-width="1.3"/>
<path clip-path="url(#cl_c4r2)" d="M627.82,417.00 C629.47,417.66 629.14,417.33 632.78,418.99 C636.42,420.64 634.77,419.81 638.74,421.96 C642.71,424.11 641.05,423.78 644.69,425.44 C648.33,427.09 647.11,426.43 649.66,426.93 C652.20,427.42 649.36,427.09 652.34,426.93 C655.32,426.76 654.52,426.76 658.59,426.43 C662.66,426.10 660.91,426.17 664.55,425.93 C668.19,425.70 667.86,425.80 669.51,425.74 M652.34,426.93 C654.42,427.32 654.52,427.39 658.59,428.12 C662.66,428.85 660.91,428.68 664.55,429.11 C668.19,429.54 667.86,429.31 669.51,429.41" fill="none" stroke="#111" stroke-width="1.3"/>
<path clip-path="url(#cl_c4r3)" d="M603.00,468.97 C604.99,469.14 603.99,467.81 608.96,469.47 C613.92,471.12 611.60,470.79 617.89,473.93 C624.18,477.08 621.20,476.09 627.82,478.90 C634.44,481.71 631.13,480.55 637.74,482.37 C644.36,484.19 642.81,483.60 647.67,484.36 C652.54,485.12 648.70,485.32 652.34,484.66 C655.98,483.99 654.52,483.70 658.59,482.37 C662.66,481.05 660.91,481.45 664.55,480.68 C668.19,479.92 667.86,480.29 669.51,480.09 M652.34,484.66 C654.42,485.38 654.52,485.45 658.59,486.84 C662.66,488.23 660.91,488.00 664.55,488.82 C668.19,489.65 667.86,489.16 669.51,489.32 M603.00,492.80 C606.31,492.63 606.31,491.97 612.93,492.30 C619.55,492.63 616.90,492.30 622.85,493.79 C628.81,495.28 625.83,495.11 630.80,496.77 C635.76,498.42 633.11,498.42 637.74,498.75 C642.38,499.08 639.83,498.59 644.69,497.76 C649.56,496.93 647.70,497.59 652.34,496.27 C656.97,494.95 654.52,495.11 658.59,493.79 C662.66,492.46 660.91,492.89 664.55,492.30 C668.19,491.70 667.86,492.10 669.51,492.00 M603.00,499.25 C606.31,498.75 606.31,499.25 612.93,497.76 C619.55,496.27 616.24,496.10 622.85,494.78 C629.47,493.46 626.16,493.79 632.78,493.79 C639.40,493.79 636.19,493.95 642.71,494.78 C649.23,495.61 647.04,494.95 652.34,496.27 C657.63,497.59 654.52,497.26 658.59,498.75 C662.66,500.24 660.91,499.91 664.55,500.74 C668.19,501.56 667.86,501.07 669.51,501.23 M603.00,504.71 C606.31,504.54 606.31,503.88 612.93,504.21 C619.55,504.54 616.24,504.54 622.85,505.70 C629.47,506.86 626.16,506.69 632.78,507.69 C639.40,508.68 636.19,508.35 642.71,508.68 C649.23,509.01 647.04,508.68 652.34,508.68 C657.63,508.68 652.87,508.68 658.59,508.68 C664.32,508.68 665.87,508.68 669.51,508.68 M603.00,508.18 C606.31,508.02 606.31,508.35 612.93,507.69 C619.55,507.02 616.24,507.19 622.85,506.20 C629.47,505.20 626.16,504.87 632.78,504.71 C639.40,504.54 636.19,504.71 642.71,505.70 C649.23,506.69 647.04,506.53 652.34,507.69 C657.63,508.84 652.87,508.51 658.59,509.18 C664.32,509.84 665.87,509.51 669.51,509.67" fill="none" stroke="#111" stroke-width="1.3"/>
<path clip-path="url(#cl_c1x)" d="M432.90,534.00 C434.77,532.73 434.97,532.93 438.50,530.20 C442.03,527.47 439.83,529.20 443.50,525.80 C447.17,522.40 445.67,523.77 449.50,520.00 C453.33,516.23 451.17,517.67 455.00,514.50 C458.83,511.33 457.00,512.83 461.00,510.50 C465.00,508.17 462.67,509.07 467.00,507.50 C471.33,505.93 469.60,506.43 474.00,505.80 C478.40,505.17 476.87,505.60 480.20,505.60 C483.53,505.60 482.73,505.73 484.00,505.80 M432.90,535.30 C435.27,533.97 435.50,534.13 440.00,531.30 C444.50,528.47 442.37,530.07 446.40,526.80 C450.43,523.53 448.00,525.10 452.10,521.50 C456.20,517.90 454.30,519.20 458.70,516.00 C463.10,512.80 461.20,514.10 465.30,511.90 C469.40,509.70 467.17,510.73 471.00,509.40 C474.83,508.07 473.73,508.53 476.80,507.90 C479.87,507.27 477.80,507.57 480.20,507.50 C482.60,507.43 482.73,507.63 484.00,507.70 M432.90,518.20 C434.60,517.80 435.30,517.80 438.00,517.00 C440.70,516.20 438.83,517.07 441.00,515.80 C443.17,514.53 442.33,515.20 444.50,513.20 C446.67,511.20 445.50,512.33 447.50,509.80 C449.50,507.27 448.50,508.37 450.50,505.60 C452.50,502.83 451.50,503.83 453.50,501.50 C455.50,499.17 453.47,500.60 456.50,498.60 C459.53,496.60 458.23,496.83 462.60,495.50 C466.97,494.17 465.30,494.63 469.60,494.60 C473.90,494.57 471.97,494.93 475.50,495.40 C479.03,495.87 477.37,495.70 480.20,496.00 C483.03,496.30 482.73,496.20 484.00,496.30 M432.90,501.20 C434.87,500.53 435.77,500.27 438.80,499.20 C441.83,498.13 439.60,498.73 442.00,498.00 C444.40,497.27 444.67,497.33 446.00,497.00" fill="none" stroke="#111" stroke-width="1.3"/>
<path clip-path="url(#cl_c3x)" d="M549.00,490.00 C550.70,488.77 550.93,488.70 554.10,486.30 C557.27,483.90 555.27,485.73 558.50,482.80 C561.73,479.87 560.30,481.00 563.80,477.50 C567.30,474.00 565.50,475.50 569.00,472.30 C572.50,469.10 570.80,470.10 574.30,467.90 C577.80,465.70 576.00,466.57 579.50,465.70 C583.00,464.83 581.87,465.30 584.80,465.30 C587.73,465.30 585.37,465.13 588.30,465.70 C591.23,466.27 589.37,465.97 593.60,467.00 C597.83,468.03 597.20,467.97 601.00,468.80 C604.80,469.63 602.33,469.10 605.00,469.50 C607.67,469.90 607.67,469.83 609.00,470.00 M548.00,496.00 C549.00,495.00 548.37,495.37 551.00,493.00 C553.63,490.63 552.53,491.73 555.90,488.90 C559.27,486.07 557.60,487.43 561.10,484.50 C564.60,481.57 562.87,483.00 566.40,480.10 C569.93,477.20 568.20,478.40 571.70,475.80 C575.20,473.20 573.40,474.07 576.90,472.30 C580.40,470.53 578.40,470.97 582.20,470.50 C586.00,470.03 584.37,470.90 588.30,470.90 C592.23,470.90 589.77,470.87 594.00,470.50 C598.23,470.13 597.33,470.13 601.00,469.80 C604.67,469.47 602.33,469.50 605.00,469.50 C607.67,469.50 607.67,469.70 609.00,469.80 M559.00,497.00 C560.30,495.47 559.83,495.67 562.90,492.40 C565.97,489.13 564.70,490.70 568.20,487.20 C571.70,483.70 569.90,485.43 573.40,481.90 C576.90,478.37 575.20,479.53 578.70,476.60 C582.20,473.67 580.70,474.53 583.90,473.10 C587.10,471.67 585.07,472.87 588.30,472.30 C591.53,471.73 589.37,472.13 593.60,471.40 C597.83,470.67 597.20,470.67 601.00,470.10 C604.80,469.53 602.33,469.73 605.00,469.70 C607.67,469.67 607.67,469.90 609.00,470.00 M541.00,485.80 C543.33,485.67 543.63,485.23 548.00,485.40 C552.37,485.57 550.60,485.70 554.10,486.30 C557.60,486.90 555.53,486.47 558.50,487.20 C561.47,487.93 560.17,487.40 563.00,488.50 C565.83,489.60 565.67,489.83 567.00,490.50 M541.00,491.10 C543.33,490.97 543.33,491.73 548.00,490.70 C552.67,489.67 551.67,489.40 555.00,488.00 C558.33,486.60 557.00,487.00 558.00,486.50 M541.00,496.80 C543.93,496.93 543.97,497.37 549.80,497.20 C555.63,497.03 552.67,497.30 558.50,496.30 C564.33,495.30 561.47,495.63 567.30,494.20 C573.13,492.77 570.77,493.03 576.00,492.00 C581.23,490.97 578.90,491.40 583.00,491.10 C587.10,490.80 582.30,491.03 588.30,491.10 C594.30,491.17 594.10,491.13 601.00,491.30 C607.90,491.47 606.33,491.50 609.00,491.60" fill="none" stroke="#111" stroke-width="1.3"/>
<path clip-path="url(#cl_c2x)" d="M504.90,400.00 C506.37,400.60 505.50,400.63 509.30,401.80 C513.10,402.97 511.63,402.33 516.30,403.50 C520.97,404.67 519.80,403.83 523.30,405.30 C526.80,406.77 524.17,405.30 526.80,407.90 C529.43,410.50 528.30,409.60 531.20,413.10 C534.10,416.60 532.60,415.60 535.50,418.40 C538.40,421.20 536.97,420.20 539.90,421.50 C542.83,422.80 540.93,422.03 544.30,422.30 C547.67,422.57 548.10,422.30 550.00,422.30 M523.30,400.00 C525.33,400.30 524.43,400.47 529.40,400.90 C534.37,401.33 533.23,401.17 538.20,401.30 C543.17,401.43 540.37,401.30 544.30,401.30 C548.23,401.30 548.10,401.30 550.00,401.30 M478.00,410.50 C482.00,410.50 483.67,410.50 490.00,410.50 C496.33,410.50 492.63,409.90 497.00,410.50 C501.37,411.10 498.13,410.40 503.10,412.30 C508.07,414.20 506.63,413.87 511.90,416.20 C517.17,418.53 514.53,417.10 518.90,419.30 C523.27,421.50 520.90,420.77 525.00,422.80 C529.10,424.83 527.10,424.23 531.20,425.40 C535.30,426.57 532.93,426.00 537.30,426.30 C541.67,426.60 540.07,426.47 544.30,426.30 C548.53,426.13 548.10,425.97 550.00,425.80 M497.00,409.50 C497.60,409.27 495.30,409.77 498.80,408.80 C502.30,407.83 501.67,407.50 507.50,406.60 C513.33,405.70 511.03,405.67 516.30,406.10 C521.57,406.53 518.93,406.43 523.30,407.90 C527.67,409.37 524.73,409.33 529.40,410.50 C534.07,411.67 532.33,411.10 537.30,411.40 C542.27,411.70 540.07,411.57 544.30,411.40 C548.53,411.23 548.10,411.07 550.00,410.90 M497.00,410.80 C499.03,411.47 498.73,411.13 503.10,412.80 C507.47,414.47 505.70,412.77 510.10,415.80 C514.50,418.83 512.20,417.83 516.30,421.90 C520.40,425.97 518.33,423.90 522.40,428.00 C526.47,432.10 524.70,430.70 528.50,434.20 C532.30,437.70 530.30,435.60 533.80,438.50 C537.30,441.40 535.50,441.13 539.00,442.90 C542.50,444.67 540.63,444.67 544.30,443.80 C547.97,442.93 548.10,441.47 550.00,440.30 M512.00,421.00 C513.43,420.43 512.53,420.03 516.30,419.30 C520.07,418.57 518.93,419.53 523.30,418.80 C527.67,418.07 525.33,418.10 529.40,417.10 C533.47,416.10 531.10,416.53 535.50,415.80 C539.90,415.07 537.77,415.50 542.60,414.90 C547.43,414.30 547.53,414.30 550.00,414.00 M514.00,419.50 C515.67,419.70 514.73,419.30 519.00,420.10 C523.27,420.90 521.87,420.27 526.80,421.90 C531.73,423.53 529.13,423.53 533.80,425.00 C538.47,426.47 535.40,426.03 540.80,426.30 C546.20,426.57 546.93,425.97 550.00,425.80" fill="none" stroke="#111" stroke-width="1.3"/>
<path clip-path="url(#cl_c1r1)" d="M416.18,375.45 C418.10,376.61 418.04,376.28 421.94,378.93 C425.85,381.57 424.26,380.25 427.90,383.39 C431.54,386.54 431.21,386.70 432.86,388.36 M416.18,403.74 C418.10,401.76 418.04,401.59 421.94,397.79 C425.85,393.98 424.26,395.47 427.90,392.33 C431.54,389.18 431.21,389.68 432.86,388.36 M432.86,388.36 C435.84,388.03 435.51,388.36 441.80,387.36 C448.08,386.37 445.44,386.37 451.72,385.38 C458.01,384.39 455.36,384.55 460.66,384.39 C465.95,384.22 463.30,384.06 467.61,384.88 C471.91,385.71 469.92,385.38 473.56,386.87 C477.20,388.36 475.71,388.19 478.53,389.35 C481.34,390.51 480.84,390.01 482.00,390.34 M416.18,403.94 C418.76,403.98 418.37,403.91 423.93,404.04 C429.49,404.17 426.24,404.37 432.86,404.34 C439.48,404.31 436.83,404.47 443.78,403.94 C450.73,403.41 447.75,403.81 453.71,402.75 C459.66,401.69 456.69,402.59 461.65,400.77 C466.61,398.95 464.30,399.77 468.60,397.29 C472.90,394.81 470.91,395.64 474.55,393.32 C478.19,391.00 477.04,391.67 479.52,390.34 C482.00,389.02 481.17,389.68 482.00,389.35 M451.72,421.02 C453.05,419.56 452.72,419.76 455.69,416.65 C458.67,413.54 457.35,414.17 460.66,411.69 C463.97,409.20 461.98,410.20 465.62,409.20 C469.26,408.21 467.61,408.71 471.58,408.71 C475.55,408.71 474.06,408.87 477.53,409.20 C481.01,409.54 480.51,409.54 482.00,409.70 M458.67,421.02 C460.33,420.22 460.00,420.75 463.64,418.64 C467.27,416.52 465.62,416.98 469.59,414.66 C473.56,412.35 471.41,413.01 475.55,411.69 C479.68,410.36 479.85,411.02 482.00,410.69 M416.18,419.13 C418.76,418.97 418.37,418.97 423.93,418.64 C429.49,418.30 426.91,417.97 432.86,418.14 C438.82,418.30 436.83,418.17 441.80,419.13 C446.76,420.09 445.77,420.39 447.75,421.02" fill="none" stroke="#f0148c" stroke-width="1.3"/>
<path clip-path="url(#cl_c1r2)" d="M416.18,423.45 C418.76,423.55 418.37,423.58 423.93,423.75 C429.49,423.92 426.91,424.54 432.86,423.95 C438.82,423.35 435.51,423.29 441.80,421.96 C448.08,420.64 446.43,421.30 451.72,419.98 C457.02,418.65 454.37,418.99 457.68,417.99 C460.99,417.00 460.33,417.33 461.65,417.00 M416.18,429.41 C418.76,429.51 418.37,429.47 423.93,429.71 C429.49,429.94 426.24,429.97 432.86,430.10 C439.48,430.24 439.15,430.83 443.78,430.10 C448.41,429.38 444.44,430.30 446.76,427.92 C449.08,425.54 448.41,425.93 450.73,422.96 C453.05,419.98 452.05,420.97 453.71,418.99 C455.36,417.00 455.03,417.66 455.69,417.00 M416.18,430.40 C421.74,430.90 423.66,431.33 432.86,431.89 C442.06,432.45 436.83,432.52 443.78,432.09 C450.73,431.66 448.08,432.32 453.71,430.60 C459.33,428.88 456.02,429.31 460.66,426.93 C465.29,424.54 462.97,425.27 467.61,423.45 C472.24,421.63 469.76,422.23 474.55,421.47 C479.35,420.71 479.52,421.27 482.00,421.17 M416.18,432.88 C419.43,432.88 420.35,432.72 425.91,432.88 C431.47,433.05 428.56,432.39 432.86,433.38 C437.16,434.37 435.18,434.54 438.82,435.86 C442.46,437.18 440.14,437.02 443.78,437.35 C447.42,437.68 445.44,437.85 449.74,436.85 C454.04,435.86 452.05,436.69 456.69,434.37 C461.32,432.06 459.00,433.05 463.64,429.91 C468.27,426.76 465.95,427.42 470.58,424.94 C475.22,422.46 473.73,423.45 477.53,422.46 C481.34,421.47 480.51,422.13 482.00,421.96 M416.18,446.28 C419.43,446.55 419.53,446.35 425.91,447.08 C432.30,447.81 430.38,449.56 435.34,448.47 C440.31,447.38 437.00,447.18 440.80,443.80 C444.61,440.43 442.46,440.82 446.76,438.34 C451.06,435.86 449.41,437.68 453.71,436.36 C458.01,435.03 457.68,435.03 459.66,434.37 M416.18,451.25 C419.43,450.75 419.53,450.69 425.91,449.76 C432.30,448.83 432.20,448.90 435.34,448.47 M461.65,469.02 C463.30,468.06 462.97,467.76 466.61,466.14 C470.25,464.52 468.60,464.98 472.57,464.15 C476.54,463.33 475.38,463.76 478.53,463.66 C481.67,463.56 480.84,463.79 482.00,463.86 M469.59,469.02 C471.25,467.89 471.25,467.10 474.55,465.64 C477.86,464.19 477.04,465.05 479.52,464.65 C482.00,464.25 481.17,464.52 482.00,464.45" fill="none" stroke="#f0148c" stroke-width="1.3"/>
<path clip-path="url(#cl_c1r3)" d="M416.18,482.37 C418.76,483.03 418.37,481.38 423.93,484.36 C429.49,487.34 427.90,488.99 432.86,491.31 C437.82,493.62 434.52,491.64 438.82,491.31 C443.12,490.98 441.46,491.47 445.77,490.31 C450.07,489.16 447.42,489.32 451.72,487.83 C456.02,486.34 454.04,486.84 458.67,485.85 C463.30,484.85 463.30,485.18 465.62,484.85 M416.18,499.25 C418.76,498.42 418.37,499.18 423.93,496.77 C429.49,494.35 429.88,493.59 432.86,492.00 M416.18,500.74 C421.74,498.59 425.32,496.77 432.86,494.28 C440.41,491.80 436.83,493.62 438.82,493.29 M443.78,491.80 C445.44,489.49 445.44,489.32 448.74,484.85 C452.05,480.39 450.40,482.37 453.71,478.40 C457.02,474.43 455.36,476.42 458.67,472.94 C461.98,469.47 460.99,470.63 463.64,467.98 C466.28,465.33 465.62,465.99 466.61,465.00 M451.72,489.82 C453.71,487.17 453.71,486.51 457.68,481.88 C461.65,477.24 459.66,479.56 463.64,475.92 C467.61,472.28 465.62,474.10 469.59,470.96 C473.56,467.81 472.24,468.47 475.55,466.49 C478.86,464.50 478.19,465.50 479.52,465.00 M432.86,501.73 C435.18,500.74 435.18,500.74 439.81,498.75 C444.44,496.77 442.13,497.10 446.76,495.77 C451.39,494.45 449.41,495.28 453.71,494.78 C458.01,494.28 454.37,494.28 459.66,494.28 C464.96,494.28 462.81,494.02 469.59,494.78 C476.37,495.54 475.88,495.97 480.01,496.57 C484.15,497.16 481.34,496.57 482.00,496.57 M416.18,507.19 C418.76,507.69 418.37,507.69 423.93,508.68 C429.49,509.67 427.90,510.50 432.86,510.17 C437.82,509.84 434.52,510.17 438.82,507.69 C443.12,505.20 440.80,505.70 445.77,502.72 C450.73,499.74 447.75,500.67 453.71,498.75 C459.66,496.83 457.02,497.63 463.64,496.96 C470.25,496.30 467.44,496.77 473.56,496.77 C479.68,496.77 479.19,496.90 482.00,496.96 M416.18,514.14 C418.76,513.64 418.37,513.81 423.93,512.65 C429.49,511.49 429.88,511.33 432.86,510.66 M416.18,500.24 C418.76,501.73 419.69,501.23 423.93,504.71 C428.16,508.18 426.08,506.56 428.89,510.66 C431.70,514.77 431.21,514.90 432.36,517.02" fill="none" stroke="#f0148c" stroke-width="1.3"/>
<path clip-path="url(#cl_c1r4)" d="M416.18,513.97 C418.76,513.47 419.36,513.47 423.93,512.48 C428.49,511.49 426.91,511.82 429.88,510.99 C432.86,510.17 431.87,510.33 432.86,510.00 M428.89,510.00 C429.55,511.16 429.39,510.99 430.88,513.47 C432.36,515.96 432.53,516.12 433.36,517.45 M416.18,559.64 C418.93,552.69 418.70,552.85 424.42,538.79 C430.15,524.73 430.38,524.56 433.36,517.45 M416.18,527.37 C418.76,528.03 419.36,527.21 423.93,529.36 C428.49,531.51 426.74,531.01 429.88,533.82 C433.03,536.64 432.20,536.47 433.36,537.80 M416.18,533.33 C418.76,533.76 419.36,533.39 423.93,534.62 C428.49,535.84 426.74,535.55 429.88,537.00 C433.03,538.46 432.20,538.33 433.36,538.99 M416.18,559.64 C418.76,556.66 418.20,557.32 423.93,550.70 C429.65,544.08 430.21,543.42 433.36,539.78 M416.18,559.64 C418.76,556.82 418.20,557.32 423.93,551.20 C429.65,545.08 430.21,544.58 433.36,541.27" fill="none" stroke="#f0148c" stroke-width="1.3"/>
<path clip-path="url(#cl_c2r1)" d="M478.00,388.85 C480.65,389.18 480.98,389.68 485.94,389.85 C490.91,390.01 489.22,389.68 492.89,389.35 C496.56,389.02 495.60,389.02 496.96,388.85 M478.00,389.85 C480.65,390.34 480.98,390.34 485.94,391.34 C490.91,392.33 489.22,392.00 492.89,392.82 C496.56,393.65 493.65,392.82 496.96,393.82 C500.27,394.81 498.55,394.15 502.82,395.80 C507.09,397.46 504.80,396.80 509.77,398.78 C514.73,400.77 512.41,400.27 517.71,401.76 C523.00,403.25 520.36,402.52 525.65,403.25 C530.94,403.98 526.81,403.61 533.59,403.94 C540.37,404.27 541.86,404.14 546.00,404.24 M496.96,388.85 C498.58,386.87 498.22,386.54 501.82,382.90 C505.43,379.26 503.15,380.58 507.78,377.93 C512.41,375.29 509.77,376.11 515.72,374.96 C521.68,373.80 519.03,374.46 525.65,374.46 C532.27,374.46 528.79,374.53 535.58,374.96 C542.36,375.39 542.53,375.49 546.00,375.75 M496.96,389.05 C498.91,389.98 498.55,389.25 502.82,391.83 C507.09,394.41 504.80,393.82 509.77,396.80 C514.73,399.77 512.41,398.62 517.71,400.77 C523.00,402.92 520.36,402.19 525.65,403.25 C530.94,404.31 526.81,403.61 533.59,403.94 C540.37,404.27 541.86,404.14 546.00,404.24 M496.96,389.35 C498.58,390.67 498.22,390.51 501.82,393.32 C505.43,396.13 503.81,394.98 507.78,397.79 C511.75,400.60 509.77,399.11 513.74,401.76 C517.71,404.41 515.72,402.75 519.69,405.73 C523.66,408.71 522.01,407.38 525.65,410.69 C529.29,414.00 527.64,412.22 530.61,415.66 C533.59,419.10 533.26,419.23 534.58,421.02 M478.00,410.69 C480.65,410.36 480.98,410.86 485.94,409.70 C490.91,408.54 489.22,408.38 492.89,407.22 C496.56,406.06 493.32,407.55 496.96,406.23 C500.60,404.90 499.21,404.41 503.81,403.25 C508.41,402.09 506.13,401.92 510.76,402.75 C515.39,403.58 513.74,403.08 517.71,405.73 C521.68,408.38 519.36,406.72 522.67,410.69 C525.98,414.66 525.32,414.20 527.64,417.64 C529.95,421.08 528.96,419.89 529.62,421.02 M478.00,411.19 C481.31,411.36 481.61,411.52 487.93,411.69 C494.25,411.85 491.67,411.36 496.96,411.69 C502.25,412.02 499.21,411.69 503.81,412.68 C508.41,413.67 506.13,412.68 510.76,414.66 C515.39,416.65 514.40,416.52 517.71,418.64 C521.02,420.75 519.69,420.22 520.69,421.02 M478.00,420.62 C481.31,420.45 480.65,420.12 487.93,420.12 C495.21,420.12 494.55,420.32 499.84,420.62 C505.13,420.92 502.49,420.89 503.81,421.02" fill="none" stroke="#f0148c" stroke-width="1.3"/>
<path clip-path="url(#cl_c2r2)" d="M478.00,421.47 C481.31,421.14 481.61,420.81 487.93,420.47 C494.25,420.14 492.00,419.65 496.96,420.47 C501.92,421.30 498.55,420.47 502.82,422.96 C507.09,425.44 504.80,424.94 509.77,427.92 C514.73,430.90 513.41,429.91 517.71,431.89 C522.01,433.88 518.70,432.22 522.67,433.88 C526.64,435.53 525.32,434.21 529.62,436.85 C533.92,439.50 531.94,438.84 535.58,441.82 C539.22,444.80 537.07,444.30 540.54,445.79 C544.01,447.28 544.18,446.12 546.00,446.28 M478.00,421.96 C481.31,421.80 481.61,421.73 487.93,421.47 C494.25,421.20 492.00,420.34 496.96,421.17 C501.92,422.00 498.22,421.20 502.82,423.95 C507.42,426.70 505.13,426.27 510.76,429.41 C516.38,432.55 514.07,431.39 519.69,433.38 C525.32,435.36 523.00,433.21 527.64,435.36 C532.27,437.52 529.62,435.70 533.59,439.83 C537.56,443.97 535.41,443.97 539.55,447.77 C543.68,451.58 543.85,450.09 546.00,451.25 M496.96,421.47 C499.24,422.63 498.88,422.13 503.81,424.94 C508.74,427.75 506.13,427.26 511.75,429.91 C517.38,432.55 514.73,431.73 520.69,432.88 C526.64,434.04 524.00,433.21 529.62,433.38 C535.25,433.55 532.10,433.55 537.56,433.38 C543.02,433.21 543.19,433.05 546.00,432.88 M515.72,417.00 C518.04,418.99 518.70,419.32 522.67,422.96 C526.64,426.60 524.00,425.60 527.64,427.92 C531.27,430.24 527.47,429.24 533.59,429.91 C539.71,430.57 541.86,429.91 546.00,429.91 M519.69,417.00 C521.68,418.32 521.02,418.99 525.65,420.97 C530.28,422.96 526.81,421.96 533.59,422.96 C540.37,423.95 541.86,423.62 546.00,423.95 M478.00,463.66 C481.31,463.33 481.61,463.16 487.93,462.66 C494.25,462.17 491.67,462.66 496.96,462.17 C502.25,461.67 499.21,460.68 503.81,461.18 C508.41,461.67 506.79,461.04 510.76,463.66 C514.73,466.27 514.07,467.23 515.72,469.02 M478.00,465.64 C481.31,465.97 481.61,465.97 487.93,466.64 C494.25,467.30 491.67,466.83 496.96,467.63 C502.25,468.42 501.53,468.55 503.81,469.02" fill="none" stroke="#f0148c" stroke-width="1.3"/>
<path clip-path="url(#cl_c2r3)" d="M478.00,465.50 C481.31,465.83 481.61,465.83 487.93,466.49 C494.25,467.15 492.00,466.65 496.96,467.48 C501.92,468.31 499.21,467.15 502.82,468.97 C506.42,470.79 506.13,471.62 507.78,472.94 M497.85,467.98 C499.84,468.97 500.17,468.31 503.81,470.96 C507.45,473.60 505.46,471.95 508.77,475.92 C512.08,479.89 510.43,478.24 513.74,482.87 C517.05,487.50 515.39,485.52 518.70,489.82 C522.01,494.12 520.02,492.46 523.66,495.77 C527.30,499.08 525.65,497.76 529.62,499.74 C533.59,501.73 530.12,500.74 535.58,501.73 C541.04,502.72 542.53,502.39 546.00,502.72 M502.82,465.00 C504.14,466.32 503.81,465.99 506.79,468.97 C509.77,471.95 508.44,470.29 511.75,473.93 C515.06,477.57 513.41,476.25 516.72,479.89 C520.02,483.53 518.04,481.55 521.68,484.85 C525.32,488.16 523.66,486.51 527.64,489.82 C531.61,493.13 529.62,491.80 533.59,494.78 C537.56,497.76 535.41,496.93 539.55,498.75 C543.68,500.57 543.85,499.74 546.00,500.24 M507.78,465.00 C509.44,466.65 509.44,466.65 512.74,469.96 C516.05,473.27 514.40,471.62 517.71,474.93 C521.02,478.24 519.36,476.58 522.67,479.89 C525.98,483.20 524.33,481.55 527.64,484.85 C530.94,488.16 529.29,486.51 532.60,489.82 C535.91,493.13 534.25,492.13 537.56,494.78 C540.87,497.43 539.71,496.27 542.53,497.76 C545.34,499.25 544.84,498.75 546.00,499.25 M478.00,495.77 C481.31,495.44 481.61,495.28 487.93,494.78 C494.25,494.28 491.67,494.62 496.96,494.28 C502.25,493.95 499.21,493.62 503.81,493.79 C508.41,493.95 506.13,493.13 510.76,494.78 C515.39,496.44 514.07,495.44 517.71,498.75 C521.35,502.06 519.36,500.41 521.68,504.71 C524.00,509.01 523.00,507.55 524.66,511.66 C526.31,515.76 525.98,515.23 526.64,517.02 M478.00,496.77 C481.31,496.93 481.61,496.93 487.93,497.26 C494.25,497.59 491.67,497.10 496.96,497.76 C502.25,498.42 499.21,498.26 503.81,499.25 C508.41,500.24 506.13,499.58 510.76,500.74 C515.39,501.90 513.41,501.40 517.71,502.72 C522.01,504.05 519.36,503.38 523.66,504.71 C527.97,506.03 525.98,505.70 530.61,506.69 C535.25,507.69 532.43,507.36 537.56,507.69 C542.69,508.02 543.19,507.69 546.00,507.69 M478.00,508.68 C481.31,508.84 481.61,509.18 487.93,509.18 C494.25,509.18 491.67,508.51 496.96,508.68 C502.25,508.84 499.21,508.68 503.81,509.67 C508.41,510.66 506.13,510.33 510.76,511.66 C515.39,512.98 513.74,511.86 517.71,513.64 C521.68,515.43 521.02,515.89 522.67,517.02 M478.00,510.17 C481.31,510.33 481.61,510.33 487.93,510.66 C494.25,511.00 491.67,510.50 496.96,511.16 C502.25,511.82 499.21,511.49 503.81,512.65 C508.41,513.81 506.79,513.18 510.76,514.64 C514.73,516.09 514.07,516.22 515.72,517.02 M527.64,484.85 C529.62,484.36 529.62,484.19 533.59,483.36 C537.56,482.54 535.41,482.70 539.55,482.37 C543.68,482.04 543.85,482.37 546.00,482.37" fill="none" stroke="#f0148c" stroke-width="1.3"/>
<path clip-path="url(#cl_c2r4)" d="M478.00,510.50 C481.31,510.83 481.61,510.99 487.93,511.49 C494.25,511.99 491.67,511.65 496.96,511.99 C502.25,512.32 498.55,512.15 503.81,512.48 C509.07,512.81 509.77,512.81 512.74,512.98 M503.81,511.99 C505.80,513.97 505.80,513.31 509.77,517.94 C513.74,522.57 511.75,520.26 515.72,525.88 C519.69,531.51 517.71,529.19 521.68,534.82 C525.65,540.44 523.66,537.80 527.64,542.76 C531.61,547.72 529.62,545.41 533.59,549.71 C537.56,554.01 536.40,552.36 539.55,555.66 C542.69,558.97 541.86,558.31 543.02,559.64 M507.78,512.98 C509.77,513.97 509.77,512.98 513.74,515.96 C517.71,518.93 515.72,516.95 519.69,521.91 C523.66,526.88 521.68,524.56 525.65,530.85 C529.62,537.13 527.64,534.16 531.61,540.77 C535.58,547.39 533.76,544.41 537.56,550.70 C541.37,556.99 541.20,556.66 543.02,559.64 M510.76,511.99 C513.08,512.98 513.41,512.32 517.71,514.96 C522.01,517.61 520.02,515.63 523.66,519.93 C527.30,524.23 525.32,521.91 528.63,527.87 C531.94,533.82 530.28,530.85 533.59,537.80 C536.90,544.74 535.41,541.44 538.55,548.72 C541.70,556.00 541.53,556.00 543.02,559.64 M525.65,510.00 C527.30,512.65 527.64,511.99 530.61,517.94 C533.59,523.90 531.94,520.59 534.58,527.87 C537.23,535.15 536.24,531.84 538.55,539.78 C540.87,547.72 540.04,545.08 541.53,551.69 C543.02,558.31 542.53,556.99 543.02,559.64 M517.71,511.49 C520.36,512.32 520.36,512.98 525.65,513.97 C530.94,514.96 526.81,514.40 533.59,514.47 C540.37,514.53 541.86,514.27 546.00,514.17 M522.67,513.97 C524.99,515.63 525.32,515.29 529.62,518.93 C533.92,522.57 531.94,522.24 535.58,524.89 C539.22,527.54 537.07,526.21 540.54,526.88 C544.01,527.54 544.18,526.88 546.00,526.88 M525.65,514.96 C527.64,517.61 527.64,517.94 531.61,522.91 C535.58,527.87 534.25,526.71 537.56,529.85 C540.87,533.00 538.72,531.34 541.53,532.34 C544.35,533.33 544.51,532.67 546.00,532.83" fill="none" stroke="#f0148c" stroke-width="1.3"/>
<path clip-path="url(#cl_c3r1)" d="M541.00,375.75 C544.31,375.49 544.31,375.39 550.93,374.96 C557.55,374.53 554.24,374.46 560.85,374.46 C567.47,374.46 565.49,374.13 570.78,374.96 C576.08,375.78 572.77,375.29 576.74,376.94 C580.71,378.60 578.95,378.10 582.69,379.92 C586.43,381.74 583.32,381.24 587.95,382.40 C592.59,383.56 590.90,382.90 596.59,383.39 C602.28,383.89 600.89,383.56 605.03,383.89 C609.17,384.22 607.68,384.22 609.00,384.39 M541.00,403.25 C544.31,403.41 544.31,404.24 550.93,403.74 C557.55,403.25 555.56,403.74 560.85,401.76 C566.15,399.77 562.84,400.77 566.81,397.79 C570.78,394.81 568.80,396.13 572.77,392.82 C576.74,389.52 574.75,390.84 578.72,387.86 C582.69,384.88 581.60,385.71 584.68,383.89 C587.76,382.07 586.86,382.90 587.95,382.40 M541.00,403.74 C544.31,403.91 544.31,404.24 550.93,404.24 C557.55,404.24 554.90,404.57 560.85,403.74 C566.81,402.92 564.16,403.08 568.80,401.76 C573.43,400.44 570.78,400.77 574.75,399.77 C578.72,398.78 576.31,399.18 580.71,398.78 C585.11,398.38 582.66,398.65 587.95,398.58 C593.25,398.52 590.90,398.52 596.59,398.58 C602.28,398.65 600.89,398.65 605.03,398.78 C609.17,398.91 607.68,398.91 609.00,398.98 M554.90,421.02 C556.88,419.23 556.88,419.43 560.85,415.66 C564.82,411.88 562.84,412.84 566.81,409.70 C570.78,406.56 568.80,407.88 572.77,406.23 C576.74,404.57 574.42,404.84 578.72,404.74 C583.02,404.64 579.72,405.43 585.67,405.93 C591.63,406.42 588.82,406.03 596.59,406.23 C604.37,406.42 604.86,406.42 609.00,406.52 M560.85,421.02 C562.84,419.89 562.51,419.76 566.81,417.64 C571.11,415.52 569.13,416.98 573.76,414.66 C578.39,412.35 575.98,413.18 580.71,410.69 C585.44,408.21 582.66,408.61 587.95,407.22 C593.25,405.83 589.58,406.76 596.59,406.52 C603.61,406.29 604.86,406.52 609.00,406.52 M578.72,421.02 C580.71,420.22 580.05,419.76 584.68,418.64 C589.31,417.51 585.84,418.14 592.62,417.64 C599.40,417.15 599.57,417.31 605.03,417.15 C610.49,416.98 607.68,417.15 609.00,417.15" fill="none" stroke="#f0148c" stroke-width="1.3"/>
<path clip-path="url(#cl_c3r2)" d="M541.00,422.96 C544.31,423.29 544.31,423.95 550.93,423.95 C557.55,423.95 554.24,423.62 560.85,422.96 C567.47,422.29 564.16,422.63 570.78,421.96 C577.40,421.30 574.98,421.14 580.71,420.97 C586.43,420.81 582.66,421.14 587.95,421.47 C593.25,421.80 590.90,421.80 596.59,421.96 C602.28,422.13 600.89,421.96 605.03,421.96 C609.17,421.96 607.68,421.96 609.00,421.96 M541.00,423.95 C544.31,423.78 544.31,423.95 550.93,423.45 C557.55,422.96 554.24,423.12 560.85,422.46 C567.47,421.80 564.16,422.29 570.78,421.47 C577.40,420.64 574.98,420.97 580.71,419.98 C586.43,418.99 582.66,419.22 587.95,418.49 C593.25,417.76 589.58,418.13 596.59,417.79 C603.61,417.46 604.86,417.60 609.00,417.50 M541.00,429.91 C544.31,429.57 544.31,429.91 550.93,428.91 C557.55,427.92 554.24,428.25 560.85,426.93 C567.47,425.60 564.16,425.93 570.78,424.94 C577.40,423.95 574.98,424.21 580.71,423.95 C586.43,423.68 582.66,423.88 587.95,424.15 C593.25,424.41 590.90,424.48 596.59,424.74 C602.28,425.01 600.89,424.81 605.03,424.94 C609.17,425.07 607.68,425.07 609.00,425.14 M541.00,432.88 C544.31,432.22 544.31,432.55 550.93,430.90 C557.55,429.24 554.24,429.57 560.85,427.92 C567.47,426.27 564.82,426.93 570.78,425.93 C576.74,424.94 573.00,425.34 578.72,424.94 C584.45,424.54 584.88,424.81 587.95,424.74 M541.00,446.28 C543.65,445.79 543.65,446.62 548.94,444.80 C554.24,442.98 551.59,444.13 556.88,440.82 C562.18,437.52 559.53,438.51 564.82,434.87 C570.12,431.23 567.47,432.72 572.77,429.91 C578.06,427.09 576.74,428.09 580.71,426.43 C584.68,424.78 582.26,425.60 584.68,424.94 C587.09,424.28 583.98,424.61 587.95,424.45 C591.93,424.28 589.58,424.45 596.59,424.45 C603.61,424.45 604.86,424.45 609.00,424.45 M541.00,451.25 C543.65,450.75 543.65,451.58 548.94,449.76 C554.24,447.94 551.59,449.10 556.88,445.79 C562.18,442.48 559.53,444.13 564.82,439.83 C570.12,435.53 567.47,436.85 572.77,432.88 C578.06,428.91 576.74,430.24 580.71,427.92 C584.68,425.60 582.26,426.93 584.68,425.93 C587.09,424.94 583.98,425.27 587.95,424.94 C591.93,424.61 589.58,424.94 596.59,424.94 C603.61,424.94 604.86,424.94 609.00,424.94 M572.77,469.02 C574.75,467.73 575.41,466.93 578.72,465.15 C582.03,463.36 579.62,463.99 582.69,463.66 C585.77,463.33 583.32,463.49 587.95,464.15 C592.59,464.82 590.90,464.65 596.59,465.64 C602.28,466.64 600.89,466.47 605.03,467.13 C609.17,467.79 607.68,467.46 609.00,467.63" fill="none" stroke="#f0148c" stroke-width="1.3"/>
<path clip-path="url(#cl_c3r3)" d="M541.00,482.37 C544.31,482.54 545.63,482.37 550.93,482.87 C556.22,483.36 552.91,483.53 556.88,483.86 C560.85,484.19 560.85,483.86 562.84,483.86 M548.94,497.76 C551.26,495.44 551.26,495.44 555.89,490.81 C560.52,486.18 558.21,488.49 562.84,483.86 C567.47,479.23 565.16,481.55 569.79,476.91 C574.42,472.28 573.10,473.44 576.74,469.96 C580.38,466.49 578.06,468.14 580.71,466.49 C583.36,464.83 583.36,465.50 584.68,465.00 M555.89,494.78 C558.21,492.80 557.88,493.46 562.84,488.82 C567.80,484.19 565.49,486.18 570.78,480.88 C576.08,475.59 574.09,476.91 578.72,472.94 C583.36,468.97 581.60,470.46 584.68,468.97 C587.76,467.48 583.98,468.47 587.95,468.47 C591.93,468.47 590.90,468.64 596.59,468.97 C602.28,469.30 600.89,469.30 605.03,469.47 C609.17,469.63 607.68,469.47 609.00,469.47 M575.74,465.50 C578.06,465.66 578.62,465.66 582.69,465.99 C586.76,466.32 583.32,465.99 587.95,466.49 C592.59,466.99 590.90,466.65 596.59,467.48 C602.28,468.31 600.89,468.31 605.03,468.97 C609.17,469.63 607.68,469.30 609.00,469.47 M541.00,498.26 C544.31,498.42 544.31,498.92 550.93,498.75 C557.55,498.59 554.24,498.42 560.85,497.76 C567.47,497.10 564.16,497.16 570.78,496.77 C577.40,496.37 574.98,496.57 580.71,496.57 C586.43,496.57 582.66,496.63 587.95,496.77 C593.25,496.90 590.90,496.80 596.59,496.96 C602.28,497.13 600.89,497.06 605.03,497.26 C609.17,497.46 607.68,497.46 609.00,497.56 M541.00,506.69 C544.31,507.02 545.96,507.69 550.93,507.69 C555.89,507.69 550.93,508.35 555.89,506.69 C560.85,505.04 559.20,504.71 565.82,502.72 C572.44,500.74 568.37,500.90 575.74,500.74 C583.12,500.57 581.01,501.40 587.95,502.23 C594.90,503.05 590.90,502.72 596.59,503.22 C602.28,503.72 600.89,503.38 605.03,503.72 C609.17,504.05 607.68,504.05 609.00,504.21 M541.00,508.68 C544.31,509.67 544.31,511.66 550.93,511.66 C557.55,511.66 554.24,511.00 560.85,508.68 C567.47,506.36 564.16,506.69 570.78,504.71 C577.40,502.72 574.98,503.22 580.71,502.72 C586.43,502.23 585.54,503.05 587.95,503.22 M556.88,517.02 C559.20,514.90 559.20,514.77 563.83,510.66 C568.46,506.56 565.82,507.69 570.78,504.71 C575.74,501.73 573.00,502.39 578.72,501.73 C584.45,501.07 582.00,501.90 587.95,502.72 C593.91,503.55 590.90,503.55 596.59,504.21 C602.28,504.87 600.89,504.48 605.03,504.71 C609.17,504.94 607.68,504.84 609.00,504.91 M566.81,517.02 C569.13,515.23 569.13,514.44 573.76,511.66 C578.39,508.88 575.98,509.84 580.71,508.68 C585.44,507.52 582.66,508.02 587.95,508.18 C593.25,508.35 590.90,508.51 596.59,509.18 C602.28,509.84 600.89,509.67 605.03,510.17 C609.17,510.66 607.68,510.50 609.00,510.66" fill="none" stroke="#f0148c" stroke-width="1.3"/>
<path clip-path="url(#cl_c3r4)" d="M543.48,559.64 C545.30,555.33 545.47,554.67 548.94,546.73 C552.42,538.79 550.60,543.09 553.91,535.81 C557.21,528.53 555.56,531.18 558.87,524.89 C562.18,518.60 560.19,521.25 563.83,516.95 C567.47,512.65 566.15,514.30 569.79,511.99 C573.43,509.67 573.10,510.66 574.75,510.00 M543.48,559.64 C545.96,556.66 545.80,556.66 550.93,550.70 C556.06,544.74 553.57,548.05 558.87,541.77 C564.16,535.48 561.52,538.13 566.81,531.84 C572.10,525.55 569.46,528.53 574.75,522.91 C580.05,517.28 578.29,518.60 582.69,514.96 C587.09,511.32 583.32,513.14 587.95,511.99 C592.59,510.83 590.90,511.82 596.59,511.49 C602.28,511.16 600.89,511.16 605.03,510.99 C609.17,510.83 607.68,510.99 609.00,510.99 M541.00,526.88 C542.99,527.04 542.99,528.03 546.96,527.37 C550.93,526.71 548.94,527.04 552.91,524.89 C556.88,522.74 555.23,523.57 558.87,520.92 C562.51,518.27 562.18,518.27 563.83,516.95 M541.00,532.83 C542.99,532.34 542.99,533.00 546.96,531.34 C550.93,529.69 548.94,531.01 552.91,527.87 C556.88,524.73 556.88,523.90 558.87,521.91" fill="none" stroke="#f0148c" stroke-width="1.3"/>
<path clip-path="url(#cl_c4r1)" d="M603.00,383.89 C605.65,384.39 605.98,383.73 610.94,385.38 C615.91,387.03 613.26,386.04 617.89,388.85 C622.52,391.67 619.88,390.84 624.84,393.82 C629.80,396.80 626.82,395.64 632.78,397.79 C638.74,399.94 637.08,399.28 642.71,400.27 C648.33,401.26 646.45,400.60 649.66,400.77 C652.87,400.93 649.36,401.92 652.34,400.77 C655.32,399.61 654.52,399.01 658.59,397.29 C662.66,395.57 660.91,396.27 664.55,395.60 C668.19,394.94 667.86,395.41 669.51,395.31 M603.00,397.79 C606.31,397.85 606.31,397.82 612.93,397.99 C619.55,398.15 616.24,397.85 622.85,398.28 C629.47,398.71 626.16,398.52 632.78,399.28 C639.40,400.04 637.08,400.01 642.71,400.57 C648.33,401.13 646.45,400.73 649.66,400.96 C652.87,401.20 649.36,400.01 652.34,401.26 C655.32,402.52 654.52,402.92 658.59,404.74 C662.66,406.56 660.91,405.90 664.55,406.72 C668.19,407.55 667.86,407.05 669.51,407.22 M603.00,406.23 C605.65,406.39 605.98,405.90 610.94,406.72 C615.91,407.55 613.26,406.39 617.89,408.71 C622.52,411.02 620.54,410.36 624.84,413.67 C629.14,416.98 627.82,416.19 630.80,418.64 C633.77,421.08 632.78,420.22 633.77,421.02 M603.00,416.65 C605.65,416.82 605.65,416.48 610.94,417.15 C616.24,417.81 613.92,417.34 618.88,418.64 C623.85,419.93 623.52,420.22 625.83,421.02" fill="none" stroke="#f0148c" stroke-width="1.3"/>
<path clip-path="url(#cl_c4r2)" d="M603.00,417.50 C606.31,417.66 606.31,417.17 612.93,417.99 C619.55,418.82 616.24,418.32 622.85,419.98 C629.47,421.63 626.16,420.97 632.78,422.96 C639.40,424.94 637.08,424.61 642.71,425.93 C648.33,427.26 646.45,426.53 649.66,426.93 C652.87,427.32 649.36,427.46 652.34,427.13 C655.32,426.79 654.52,426.60 658.59,425.93 C662.66,425.27 660.91,425.47 664.55,425.14 C668.19,424.81 667.86,425.01 669.51,424.94 M627.82,417.99 C630.13,419.32 629.80,419.48 634.77,421.96 C639.73,424.45 637.74,423.78 642.71,425.44 C647.67,427.09 646.45,426.27 649.66,426.93 C652.87,427.59 649.36,426.93 652.34,427.42 C655.32,427.92 654.52,427.75 658.59,428.42 C662.66,429.08 660.91,429.08 664.55,429.41 C668.19,429.74 667.86,429.41 669.51,429.41 M603.00,421.96 C606.31,422.29 606.31,421.63 612.93,422.96 C619.55,424.28 616.90,423.29 622.85,425.93 C628.81,428.58 625.83,426.93 630.80,430.90 C635.76,434.87 633.11,433.55 637.74,437.85 C642.38,442.15 640.72,440.99 644.69,443.80 C648.66,446.62 647.11,445.29 649.66,446.28 C652.20,447.28 649.36,447.44 652.34,446.78 C655.32,446.12 654.52,445.56 658.59,444.30 C662.66,443.04 660.91,443.51 664.55,443.01 C668.19,442.51 667.86,442.88 669.51,442.81 M603.00,424.45 C606.31,424.78 606.31,424.11 612.93,425.44 C619.55,426.76 616.90,425.93 622.85,428.42 C628.81,430.90 625.83,429.08 630.80,432.88 C635.76,436.69 633.11,435.70 637.74,439.83 C642.38,443.97 640.72,442.98 644.69,445.29 C648.66,447.61 647.11,446.12 649.66,446.78 C652.20,447.44 649.36,446.62 652.34,447.28 C655.32,447.94 654.52,447.77 658.59,448.77 C662.66,449.76 660.91,449.76 664.55,450.26 C668.19,450.75 667.86,450.26 669.51,450.26" fill="none" stroke="#f0148c" stroke-width="1.3"/>
<path clip-path="url(#cl_c4r3)" d="M603.00,468.97 C604.99,469.14 603.99,467.48 608.96,469.47 C613.92,471.45 612.27,470.79 617.89,474.93 C623.52,479.06 620.87,478.07 625.83,481.88 C630.80,485.68 627.16,484.19 632.78,486.34 C638.41,488.49 636.19,487.50 642.71,488.33 C649.23,489.16 647.04,489.32 652.34,488.82 C657.63,488.33 654.52,488.00 658.59,486.84 C662.66,485.68 660.91,485.85 664.55,485.35 C668.19,484.85 667.86,485.35 669.51,485.35 M603.00,469.47 C605.65,469.80 605.65,468.31 610.94,470.46 C616.24,472.61 613.26,471.62 618.88,475.92 C624.51,480.22 622.19,479.56 627.82,483.36 C633.44,487.17 630.13,485.52 635.76,487.34 C641.38,489.16 639.17,488.33 644.69,488.82 C650.22,489.32 647.70,488.16 652.34,488.82 C656.97,489.49 654.52,489.55 658.59,490.81 C662.66,492.07 660.91,491.77 664.55,492.60 C668.19,493.42 667.86,493.06 669.51,493.29 M603.00,497.26 C606.31,497.36 606.31,497.06 612.93,497.56 C619.55,498.06 616.24,497.86 622.85,498.75 C629.47,499.65 626.16,499.41 632.78,500.24 C639.40,501.07 636.19,500.57 642.71,501.23 C649.23,501.90 647.04,502.56 652.34,502.23 C657.63,501.90 654.52,501.40 658.59,500.24 C662.66,499.08 660.91,499.41 664.55,498.75 C668.19,498.09 667.86,498.42 669.51,498.26 M603.00,504.21 C606.31,503.38 606.31,503.38 612.93,501.73 C619.55,500.08 616.24,500.41 622.85,499.25 C629.47,498.09 626.16,498.26 632.78,498.26 C639.40,498.26 636.19,497.92 642.71,499.25 C649.23,500.57 647.04,500.90 652.34,502.23 C657.63,503.55 654.52,503.05 658.59,503.22 C662.66,503.38 660.91,502.95 664.55,502.72 C668.19,502.49 667.86,502.59 669.51,502.52 M603.00,504.71 C606.31,505.37 606.31,505.04 612.93,506.69 C619.55,508.35 616.90,508.02 622.85,509.67 C628.81,511.33 625.83,511.33 630.80,511.66 C635.76,511.99 633.11,511.66 637.74,510.66 C642.38,509.67 639.83,509.67 644.69,508.68 C649.56,507.69 647.70,508.02 652.34,507.69 C656.97,507.36 652.87,507.52 658.59,507.69 C664.32,507.85 665.87,508.02 669.51,508.18 M603.00,510.17 C606.31,510.33 606.31,510.17 612.93,510.66 C619.55,511.16 616.90,510.66 622.85,511.66 C628.81,512.65 625.83,513.15 630.80,513.64 C635.76,514.14 633.11,513.97 637.74,513.15 C642.38,512.32 639.83,512.48 644.69,511.16 C649.56,509.84 647.70,510.00 652.34,509.18 C656.97,508.35 654.52,508.51 658.59,508.68 C662.66,508.84 660.91,508.68 664.55,509.67 C668.19,510.66 667.86,511.00 669.51,511.66" fill="none" stroke="#f0148c" stroke-width="1.3"/>
<path clip-path="url(#cl_c1x)" d="M432.90,537.60 C434.67,536.63 434.53,537.17 438.20,534.70 C441.87,532.23 440.07,533.60 443.90,530.20 C447.73,526.80 445.57,528.33 449.70,524.50 C453.83,520.67 451.93,522.27 456.30,518.70 C460.67,515.13 458.43,516.53 462.80,513.80 C467.17,511.07 465.03,512.00 469.40,510.50 C473.77,509.00 472.30,509.70 475.90,509.30 C479.50,508.90 477.50,509.23 480.20,509.30 C482.90,509.37 482.73,509.43 484.00,509.50 M432.90,539.20 C435.20,537.97 435.30,538.77 439.80,535.50 C444.30,532.23 442.00,533.37 446.40,529.40 C450.80,525.43 448.63,527.17 453.00,523.60 C457.37,520.03 455.13,521.70 459.50,518.70 C463.87,515.70 461.70,516.93 466.10,514.60 C470.50,512.27 468.33,513.20 472.70,511.70 C477.07,510.20 475.43,510.57 479.20,510.10 C482.97,509.63 482.40,510.23 484.00,510.30 M432.90,517.40 C433.87,517.50 433.50,517.93 435.80,517.70 C438.10,517.47 437.33,517.83 439.80,516.70 C442.27,515.57 440.90,516.27 443.20,514.30 C445.50,512.33 444.23,513.43 446.70,510.80 C449.17,508.17 448.33,509.00 450.60,506.40 C452.87,503.80 451.53,504.97 453.50,503.00 C455.47,501.03 453.40,502.37 456.50,500.50 C459.60,498.63 458.50,498.93 462.80,497.40 C467.10,495.87 465.00,496.37 469.40,495.90 C473.80,495.43 472.40,495.77 476.00,496.00 C479.60,496.23 477.53,496.27 480.20,496.60 C482.87,496.93 482.73,496.87 484.00,497.00 M432.90,510.20 C434.87,509.37 434.50,510.20 438.80,507.70 C443.10,505.20 440.83,505.67 445.80,502.70 C450.77,499.73 447.77,500.70 453.70,498.80 C459.63,496.90 457.00,497.67 463.60,497.00 C470.20,496.33 466.70,496.73 473.50,496.80 C480.30,496.87 480.50,497.07 484.00,497.20" fill="none" stroke="#f0148c" stroke-width="1.3"/>
<path clip-path="url(#cl_c3x)" d="M544.00,501.00 C544.77,499.90 543.80,501.13 546.30,497.70 C548.80,494.27 548.00,495.40 551.50,490.70 C555.00,486.00 553.30,488.00 556.80,483.60 C560.30,479.20 558.50,481.27 562.00,477.50 C565.50,473.73 563.80,475.50 567.30,472.30 C570.80,469.10 569.00,470.40 572.50,467.90 C576.00,465.40 574.87,466.13 577.80,464.80 C580.73,463.47 578.67,464.03 581.30,463.90 C583.93,463.77 583.37,463.93 585.70,464.40 C588.03,464.87 585.67,464.57 588.30,465.30 C590.93,466.03 589.37,465.60 593.60,466.60 C597.83,467.60 597.20,467.50 601.00,468.30 C604.80,469.10 602.33,468.47 605.00,469.00 C607.67,469.53 607.67,469.60 609.00,469.90 M545.00,502.00 C546.00,500.83 544.97,502.00 548.00,498.50 C551.03,495.00 550.30,495.57 554.10,491.50 C557.90,487.43 555.90,489.80 559.40,486.30 C562.90,482.80 561.10,484.23 564.60,481.00 C568.10,477.77 566.37,479.23 569.90,476.60 C573.43,473.97 572.00,475.00 575.20,473.10 C578.40,471.20 576.60,471.77 579.50,470.90 C582.40,470.03 580.97,470.63 583.90,470.50 C586.83,470.37 584.93,470.57 588.30,470.50 C591.67,470.43 589.77,470.60 594.00,470.30 C598.23,470.00 597.33,469.90 601.00,469.60 C604.67,469.30 602.33,469.40 605.00,469.40 C607.67,469.40 607.67,469.53 609.00,469.60 M555.00,499.00 C556.17,497.67 555.57,498.07 558.50,495.00 C561.43,491.93 560.30,493.60 563.80,489.80 C567.30,486.00 565.50,487.40 569.00,483.60 C572.50,479.80 571.07,481.60 574.30,478.40 C577.53,475.20 576.07,476.33 578.70,474.00 C581.33,471.67 580.17,473.13 582.20,471.40 C584.23,469.67 583.37,470.40 584.80,468.80 C586.23,467.20 585.33,467.63 586.50,466.60 C587.67,465.57 586.47,465.97 588.30,465.70 C590.13,465.43 590.77,465.77 592.00,465.80 M541.00,482.30 C543.33,482.47 543.63,482.20 548.00,482.80 C552.37,483.40 550.60,483.23 554.10,484.10 C557.60,484.97 555.87,484.43 558.50,485.40 C561.13,486.37 559.50,485.63 562.00,487.00 C564.50,488.37 563.33,487.67 566.00,489.50 C568.67,491.33 568.67,491.50 570.00,492.50" fill="none" stroke="#f0148c" stroke-width="1.3"/>
<path clip-path="url(#cl_c2x)" d="M478.00,406.50 C482.00,406.53 483.67,406.73 490.00,406.60 C496.33,406.47 492.63,407.00 497.00,406.10 C501.37,405.20 499.00,405.20 503.10,403.90 C507.20,402.60 504.90,403.20 509.30,402.20 C513.70,401.20 511.63,401.20 516.30,400.90 C520.97,400.60 520.97,401.17 523.30,401.30 M507.50,400.00 C510.43,400.60 509.00,400.77 516.30,401.80 C523.60,402.83 522.10,402.40 529.40,403.10 C536.70,403.80 531.33,403.63 538.20,403.90 C545.07,404.17 546.07,403.90 550.00,403.90 M478.00,413.00 C482.00,413.03 483.67,413.20 490.00,413.10 C496.33,413.00 492.63,412.97 497.00,412.70 C501.37,412.43 499.00,412.90 503.10,412.30 C507.20,411.70 505.80,411.20 509.30,410.90 C512.80,410.60 510.70,410.37 513.60,411.40 C516.50,412.43 515.37,411.37 518.00,414.00 C520.63,416.63 519.17,415.50 521.50,419.30 C523.83,423.10 522.67,422.20 525.00,425.40 C527.33,428.60 525.57,427.43 528.50,428.90 C531.43,430.37 530.30,429.50 533.80,429.80 C537.30,430.10 535.50,429.80 539.00,429.80 C542.50,429.80 540.63,430.40 544.30,429.80 C547.97,429.20 548.10,428.60 550.00,428.00 M497.00,412.30 C499.03,413.17 498.13,413.17 503.10,414.90 C508.07,416.63 506.63,416.03 511.90,417.50 C517.17,418.97 514.53,418.13 518.90,419.30 C523.27,420.47 520.90,419.83 525.00,421.00 C529.10,422.17 526.53,421.93 531.20,422.80 C535.87,423.67 534.63,423.33 539.00,423.60 C543.37,423.87 540.63,423.73 544.30,423.60 C547.97,423.47 548.10,423.33 550.00,423.20 M478.00,420.20 C482.00,420.17 483.67,420.27 490.00,420.10 C496.33,419.93 492.63,419.10 497.00,419.70 C501.37,420.30 498.73,419.70 503.10,421.90 C507.47,424.10 505.70,423.67 510.10,426.30 C514.50,428.93 511.90,428.07 516.30,429.80 C520.70,431.53 518.63,430.63 523.30,431.50 C527.97,432.37 525.63,431.80 530.30,432.40 C534.97,433.00 532.63,433.00 537.30,433.30 C541.97,433.60 540.07,433.90 544.30,433.30 C548.53,432.70 548.10,432.10 550.00,431.50 M478.00,422.80 C482.00,422.80 483.67,422.97 490.00,422.80 C496.33,422.63 492.63,421.87 497.00,422.30 C501.37,422.73 498.73,422.20 503.10,424.10 C507.47,426.00 505.70,425.53 510.10,428.00 C514.50,430.47 511.90,429.43 516.30,431.50 C520.70,433.57 518.63,431.87 523.30,434.20 C527.97,436.53 526.23,435.30 530.30,438.50 C534.37,441.70 532.27,440.87 535.50,443.80 C538.73,446.73 537.07,446.73 540.00,447.30 C542.93,447.87 540.97,447.27 544.30,445.50 C547.63,443.73 548.10,443.17 550.00,442.00 M478.00,423.50 C484.33,423.40 488.63,422.70 497.00,423.20 C505.37,423.70 498.73,422.90 503.10,425.00 C507.47,427.10 505.70,426.73 510.10,429.50 C514.50,432.27 511.90,431.03 516.30,433.30 C520.70,435.57 518.63,433.73 523.30,436.30 C527.97,438.87 526.07,437.60 530.30,441.00 C534.53,444.40 532.43,443.67 536.00,446.50 C539.57,449.33 538.23,448.83 541.00,449.50 C543.77,450.17 541.30,450.00 544.30,448.50 C547.30,447.00 548.10,446.17 550.00,445.00 M510.10,400.00 C511.57,402.03 511.57,401.73 514.50,406.10 C517.43,410.47 515.97,408.13 518.90,413.10 C521.83,418.07 520.67,416.60 523.30,421.00 C525.93,425.40 524.47,423.37 526.80,426.30 C529.13,429.23 529.13,428.63 530.30,429.80" fill="none" stroke="#f0148c" stroke-width="1.3"/>
<rect x="416.8" y="354.1" width="251.6" height="17.5" fill="#fff"/>
<line x1="418.20" y1="362.90" x2="447.80" y2="362.90" stroke="#707070" stroke-width="1.6" />
<text transform="translate(451.60,367.60) scale(0.945,1)" font-size="14.3" text-anchor="start" fill="#000" font-weight="normal" font-style="normal" >SnSe</text>
<line x1="491.30" y1="362.90" x2="520.70" y2="362.90" stroke="#ff82bf" stroke-width="1.6" />
<text transform="translate(524.20,367.60) scale(0.945,1)" font-size="14.3" text-anchor="start" fill="#000" font-weight="normal" font-style="normal" >SnSe-0.75%Te-0.7%Mo</text>
<rect x="416.2" y="353.5" width="252.80" height="206.30" fill="none" stroke="#000" stroke-width="1.2"/>
<line x1="416.20" y1="559.80" x2="420.40" y2="559.80" stroke="#000" stroke-width="1.1" />
<line x1="416.20" y1="539.17" x2="418.40" y2="539.17" stroke="#000" stroke-width="1.1" />
<line x1="416.20" y1="518.54" x2="420.40" y2="518.54" stroke="#000" stroke-width="1.1" />
<line x1="416.20" y1="497.91" x2="418.40" y2="497.91" stroke="#000" stroke-width="1.1" />
<line x1="416.20" y1="477.28" x2="420.40" y2="477.28" stroke="#000" stroke-width="1.1" />
<line x1="416.20" y1="456.65" x2="418.40" y2="456.65" stroke="#000" stroke-width="1.1" />
<line x1="416.20" y1="436.02" x2="420.40" y2="436.02" stroke="#000" stroke-width="1.1" />
<line x1="416.20" y1="415.39" x2="418.40" y2="415.39" stroke="#000" stroke-width="1.1" />
<line x1="416.20" y1="394.76" x2="420.40" y2="394.76" stroke="#000" stroke-width="1.1" />
<line x1="416.20" y1="374.13" x2="418.40" y2="374.13" stroke="#000" stroke-width="1.1" />
<line x1="416.20" y1="353.50" x2="420.40" y2="353.50" stroke="#000" stroke-width="1.1" />
<text transform="translate(411.20,565.70) scale(1.01,1)" font-size="22.1" text-anchor="end" fill="#000" font-weight="normal" font-style="normal" >0</text>
<text transform="translate(411.20,524.44) scale(1.01,1)" font-size="22.1" text-anchor="end" fill="#000" font-weight="normal" font-style="normal" >40</text>
<text transform="translate(411.20,483.18) scale(1.01,1)" font-size="22.1" text-anchor="end" fill="#000" font-weight="normal" font-style="normal" >80</text>
<text transform="translate(411.20,441.92) scale(1.01,1)" font-size="22.1" text-anchor="end" fill="#000" font-weight="normal" font-style="normal" >120</text>
<text transform="translate(411.20,400.66) scale(1.01,1)" font-size="22.1" text-anchor="end" fill="#000" font-weight="normal" font-style="normal" >160</text>
<text transform="translate(411.20,359.40) scale(1.01,1)" font-size="22.1" text-anchor="end" fill="#000" font-weight="normal" font-style="normal" >200</text>
<line x1="416.20" y1="559.80" x2="416.20" y2="564.00" stroke="#000" stroke-width="1.1" />
<line x1="432.80" y1="559.80" x2="432.80" y2="564.00" stroke="#000" stroke-width="1.1" />
<line x1="480.20" y1="559.80" x2="480.20" y2="564.00" stroke="#000" stroke-width="1.1" />
<line x1="496.90" y1="559.80" x2="496.90" y2="564.00" stroke="#000" stroke-width="1.1" />
<line x1="543.50" y1="559.80" x2="543.50" y2="564.00" stroke="#000" stroke-width="1.1" />
<line x1="587.90" y1="559.80" x2="587.90" y2="564.00" stroke="#000" stroke-width="1.1" />
<line x1="604.90" y1="559.80" x2="604.90" y2="564.00" stroke="#000" stroke-width="1.1" />
<line x1="652.60" y1="559.80" x2="652.60" y2="564.00" stroke="#000" stroke-width="1.1" />
<line x1="669.00" y1="559.80" x2="669.00" y2="564.00" stroke="#000" stroke-width="1.1" />
<text transform="translate(416.30,583.70) scale(0.99,1)" font-size="22.9" text-anchor="middle" fill="#000" font-weight="normal" font-style="normal" >Γ</text>
<text transform="translate(432.60,583.70) scale(0.99,1)" font-size="22.9" text-anchor="middle" fill="#000" font-weight="normal" font-style="normal" >X</text>
<text transform="translate(480.10,583.70) scale(0.99,1)" font-size="22.9" text-anchor="middle" fill="#000" font-weight="normal" font-style="normal" >S</text>
<text transform="translate(496.90,583.70) scale(0.99,1)" font-size="22.9" text-anchor="middle" fill="#000" font-weight="normal" font-style="normal" >Y</text>
<text transform="translate(544.50,583.70) scale(0.99,1)" font-size="22.9" text-anchor="middle" fill="#000" font-weight="normal" font-style="normal" >Γ</text>
<text transform="translate(589.60,583.70) scale(0.99,1)" font-size="22.9" text-anchor="middle" fill="#000" font-weight="normal" font-style="normal" >Z</text>
<text transform="translate(605.70,583.70) scale(0.99,1)" font-size="22.9" text-anchor="middle" fill="#000" font-weight="normal" font-style="normal" >U</text>
<text transform="translate(652.50,583.70) scale(0.99,1)" font-size="22.9" text-anchor="middle" fill="#000" font-weight="normal" font-style="normal" >R</text>
<text transform="translate(668.70,583.70) scale(0.99,1)" font-size="22.9" text-anchor="middle" fill="#000" font-weight="normal" font-style="normal" >T</text>
<rect x="596.5" y="530" width="61" height="20" fill="#fff"/>
<text transform="translate(598.0,545.3) scale(0.93,1)" font-size="15.2"><tspan font-style="italic">T</tspan> = 300K</text>
<text transform="translate(366.0,456.65) rotate(-90) scale(1.005,1)" font-size="22" text-anchor="middle">Frequency (cm<tspan font-size="14.5" dy="-8">-1</tspan><tspan dy="8">)</tspan></text>
<text transform="translate(349.80,351.30)" font-size="26" text-anchor="start" fill="#000" font-weight="bold" font-style="normal" >d</text>
</svg>
</body></html>
